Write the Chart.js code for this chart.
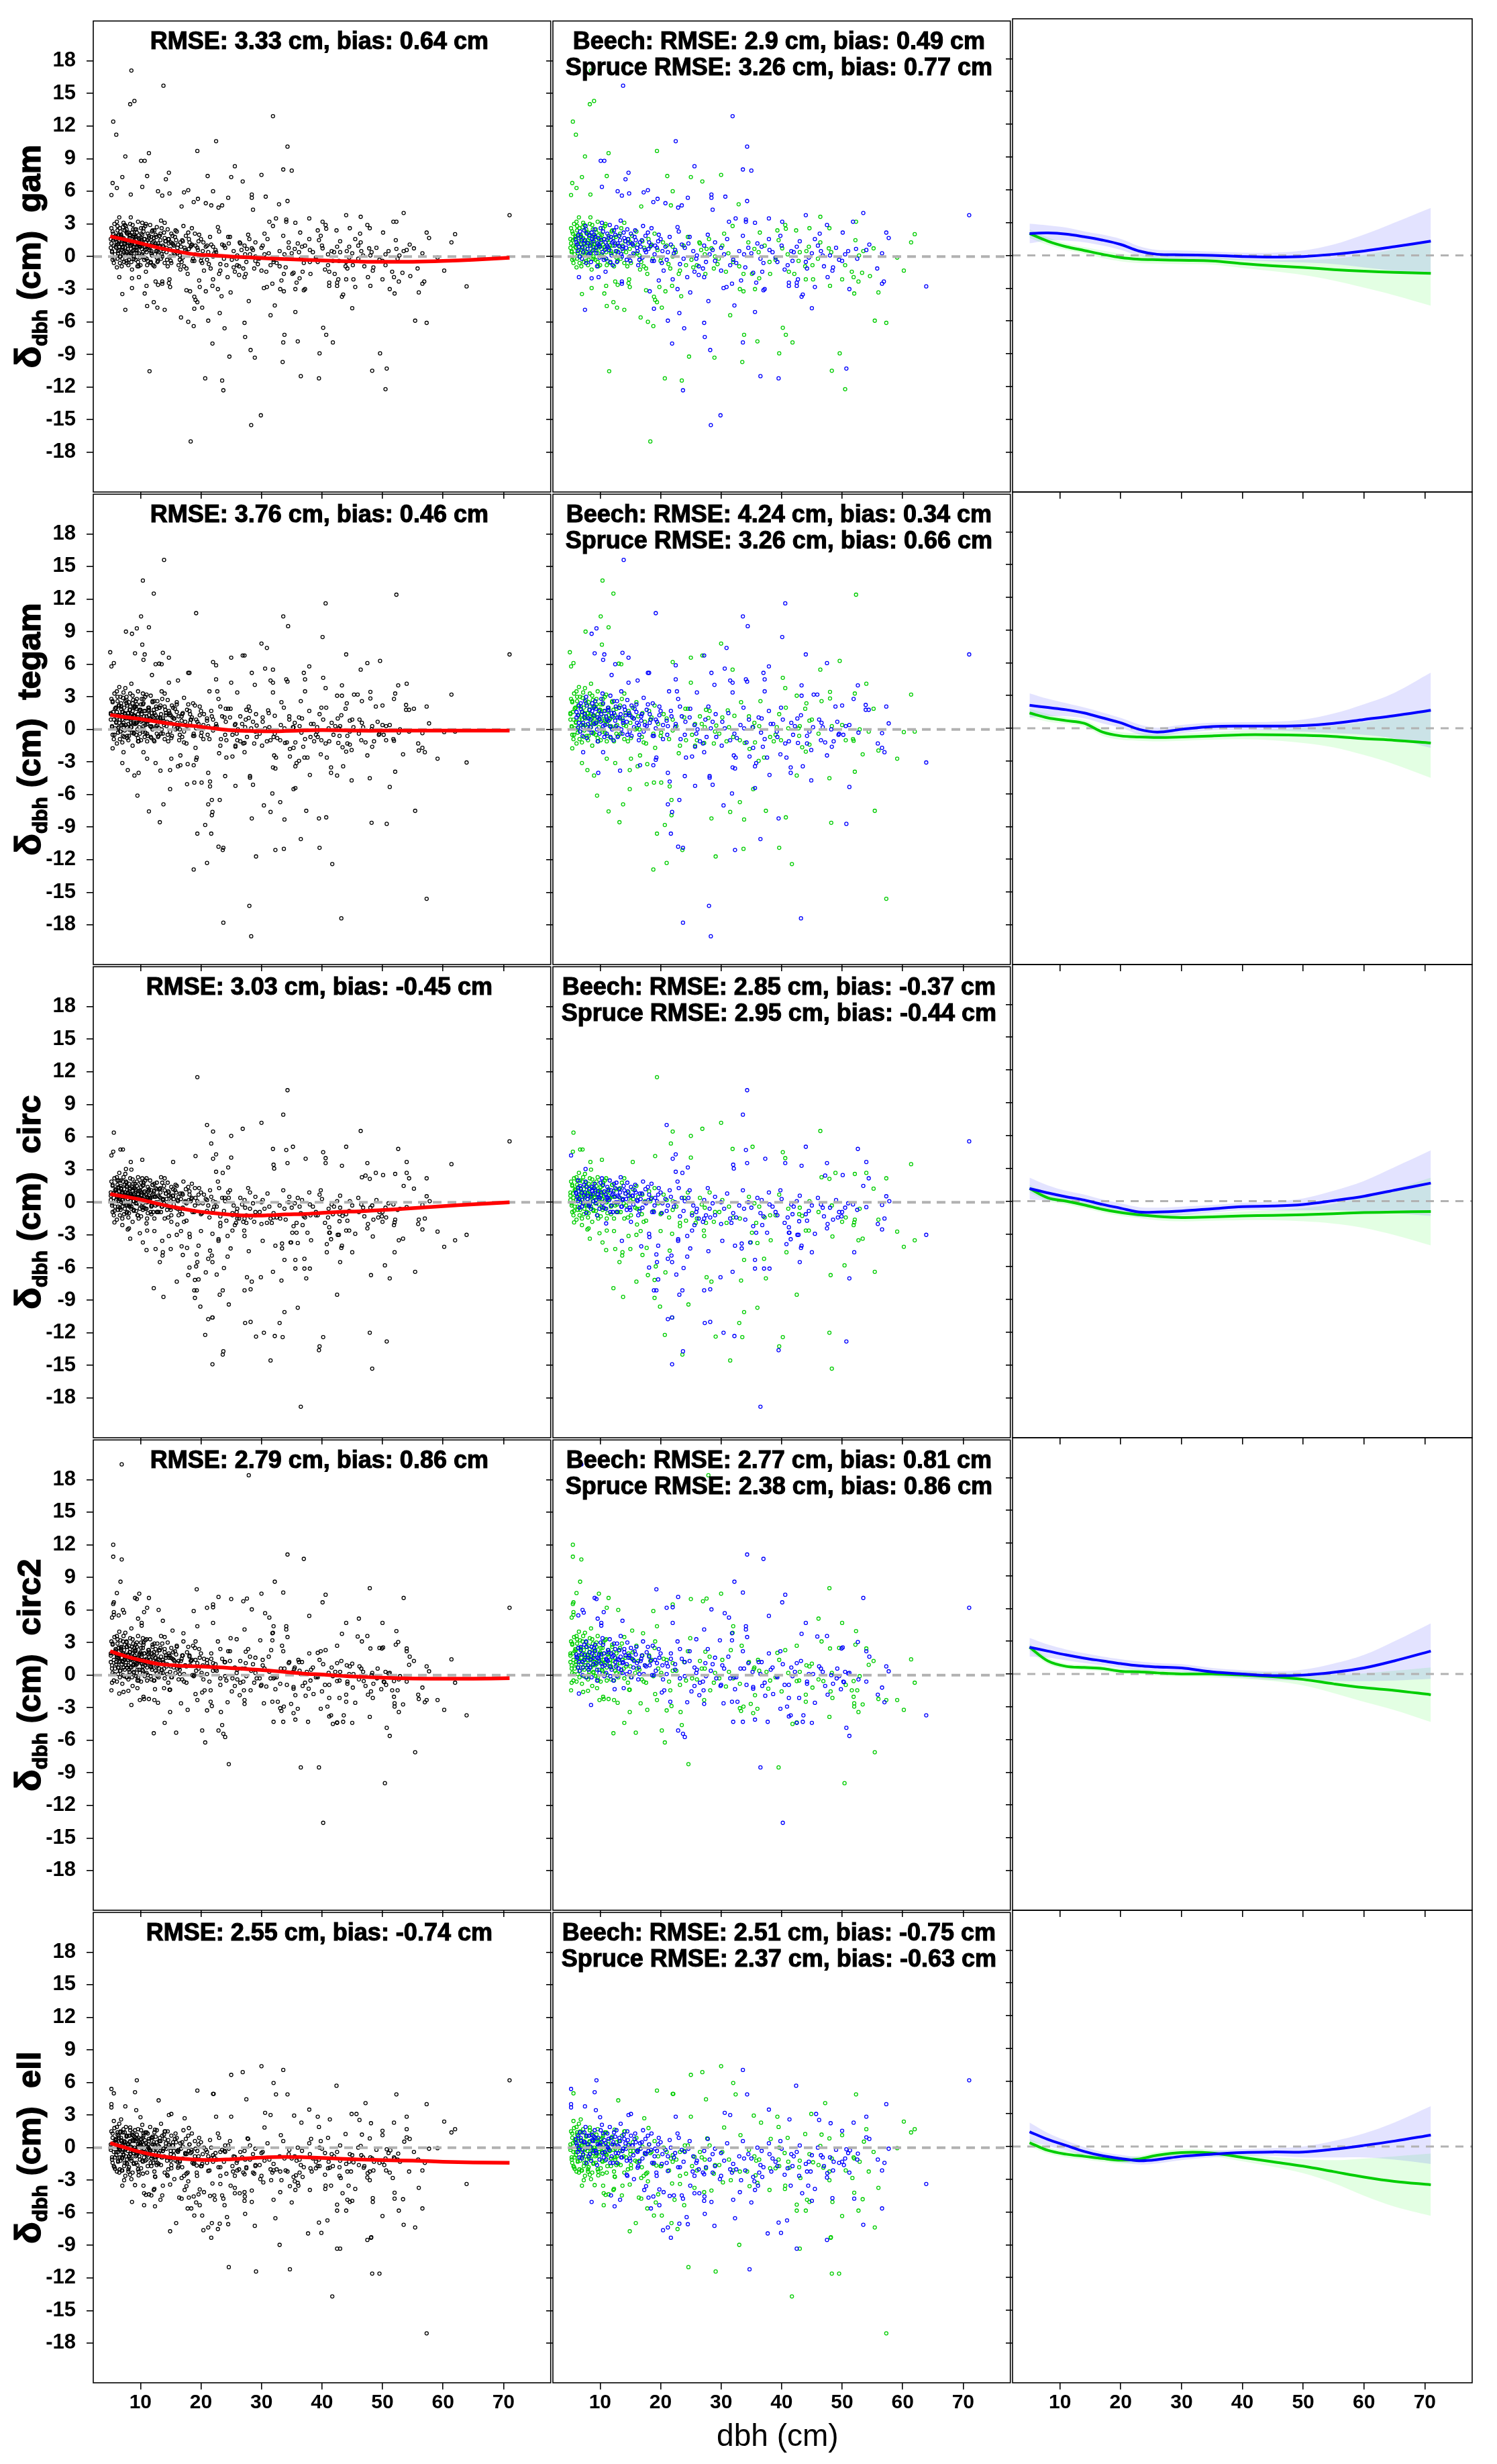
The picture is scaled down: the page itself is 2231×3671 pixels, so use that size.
<!DOCTYPE html>
<html>
<head>
<meta charset="utf-8">
<title>dbh residuals by stem model</title>
<script src="https://cdn.jsdelivr.net/npm/chart.js@4.4.1/dist/chart.umd.min.js"></script>
<style>
  html, body { margin: 0; padding: 0; background: #fff; }
  #figure { position: relative; width: 2231px; height: 3671px; background: #fff; overflow: hidden; }
  #figure canvas { position: absolute; }
</style>
</head>
<body>
<div id="figure"></div>
<script>
// ---------------------------------------------------------------------------
// Data (dbh in cm, residual in cm)
// ---------------------------------------------------------------------------
const METHODS = ["gam", "tegam", "circ", "circ2", "ell"];
const X_TICKS = [10, 20, 30, 40, 50, 60, 70];
const Y_TICKS = [-18, -15, -12, -9, -6, -3, 0, 3, 6, 9, 12, 15, 18];
const X_MIN = 2.2, X_MAX = 77.8;
const Y_MIN = -21.65, Y_MAX = 21.65;

const POOLED_TITLES = [
    "RMSE: 3.33 cm, bias: 0.64 cm",
    "RMSE: 3.76 cm, bias: 0.46 cm",
    "RMSE: 3.03 cm, bias: -0.45 cm",
    "RMSE: 2.79 cm, bias: 0.86 cm",
    "RMSE: 2.55 cm, bias: -0.74 cm"
];
const BEECH_TITLES = [
    "Beech: RMSE: 2.9 cm, bias: 0.49 cm",
    "Beech: RMSE: 4.24 cm, bias: 0.34 cm",
    "Beech: RMSE: 2.85 cm, bias: -0.37 cm",
    "Beech: RMSE: 2.77 cm, bias: 0.81 cm",
    "Beech: RMSE: 2.51 cm, bias: -0.75 cm"
];
const SPRUCE_TITLES = [
    "Spruce RMSE: 3.26 cm, bias: 0.77 cm",
    "Spruce RMSE: 3.26 cm, bias: 0.66 cm",
    "Spruce RMSE: 2.95 cm, bias: -0.44 cm",
    "Spruce RMSE: 2.38 cm, bias: 0.86 cm",
    "Spruce RMSE: 2.37 cm, bias: -0.63 cm"
];

// --- gam ---
const gamBeech = [
    [13.8,15.7],[31.9,12.9],[22.5,10.6],[34.3,10.1],[10.1,8.8],[10.7,8.8],[25.6,8.3],[14.7,7.7],[33.6,8.0],[35.0,7.9],
    [14.2,7.1],[10.3,6.4],[12.9,6.0],[14.8,5.8],[17.2,5.9],[17.9,6.1],[13.6,5.6],[28.4,5.7],[28.4,5.4],[30.7,5.5],
    [34.3,5.1],[24.5,5.4],[23.5,4.7],[22.9,4.5],[28.6,4.3],[18.8,5.0],[19.5,5.3],[20.8,4.9],[53.5,4.0],[71.0,3.8],
    [44.0,3.8],[37.9,3.5],[34.1,3.4],[34.1,3.2],[32.4,3.5],[31.3,3.2],[35.6,3.1],[40.1,3.2],[47.5,2.9],[51.8,3.2],
    [57.3,2.2],[57.7,1.7],[50.1,2.2],[46.3,2.1],[45.5,1.6],[54.5,1.1],[54.0,0.6],[56.6,0.3],[55.8,-1.1],[56.9,-2.3],
    [56.6,-2.5],[63.9,-2.75],[51.2,-3.0],[45.0,-4.75],[43.5,-3.5],[43.3,-3.7],[47.6,-1.9],[48.4,-1.3],[45.5,-2.8],[41.2,-2.4],
    [41.2,-2.7],[42.5,-2.4],[42.5,-2.7],[37.0,-3.1],[37.2,-3.0],[35.6,-5.1],[32.2,-4.5],[30.4,-2.9],[30.9,-2.8],[27.9,-4.1],
    [27.2,-6.1],[27.3,-7.4],[28.2,-8.6],[33.6,-7.9],[36.5,-11.0],[39.5,-11.2],[50.7,-10.3],[29.9,-14.6],[28.3,-15.5],[23.7,-12.3],
    [21.9,-8.0],[23.9,-6.6],[21.2,-5.9],[23.1,-5.2],[22.8,-3.0],[24.9,-3.3],[18.9,-4.8],[18.2,-3.2],[19.7,-2.2],[13.6,-2.3],
    [13.6,-2.5],[10.9,-1.4],[9.75,-1.9],[8.6,-2.0],[6.5,-1.9],[7.5,-4.9],[20.5,-1.3],[22.0,-2.1],[24.4,-1.9],[26.3,-1.7],
    [27.2,-1.9],[31.8,-2.5],[33.3,-2.2],[35.8,-2.4],[42.7,-2.1],[52.3,0.7],
    // dense part of the cloud
    [6.0,1.6],[6.3,0.5],[6.7,2.3],[7.0,-0.2],[7.3,1.2],[7.6,2.8],[7.9,0.7],[8.2,1.9],[8.5,-0.5],[8.8,1.4],
    [9.1,2.5],[9.4,0.3],[9.7,1.7],[10.0,0.9],[10.3,3.1],[10.6,-0.3],[10.9,1.3],[11.2,2.1],[11.5,0.6],[11.8,1.8],
    [12.1,-0.8],[12.4,1.0],[12.7,2.7],[13.0,0.4],[13.3,1.5],[13.6,0.0],[13.9,2.2],[14.3,0.8],[14.6,1.6],[15.0,-0.4],
    [15.4,1.1],[15.8,2.4],[16.2,0.5],[16.6,1.3],[17.0,-0.1],[17.5,1.9],[18.0,0.7],[18.5,2.6],[19.0,0.2],[19.6,1.4],
    [20.2,-0.6],[20.8,0.9],[21.5,1.8],[22.2,0.3],[23.0,2.3],[23.8,-0.2],[24.6,1.2],[25.4,0.5],[26.3,-0.9],[27.2,1.0],
    [28.1,0.2],[29.0,-0.4],[30.0,0.8],[31.0,1.6],[32.0,-0.3],[33.0,0.5],[34.0,-1.0],[35.0,0.3],[36.0,1.2],[37.0,-0.6],
    [38.0,0.6],[39.0,-0.1],[40.0,1.0],[41.0,-0.8],[42.0,0.4],[43.0,1.4],[44.0,-0.5],[45.0,0.3],[46.0,1.0],[47.0,-0.9],
    [48.0,0.1],[49.0,0.8],[50.0,-0.4],[51.0,0.5],[52.5,-0.2],
    [6.2,1.1],[6.4,2.0],[6.6,0.0],[6.9,1.5],[7.1,0.8],[7.4,2.4],[7.7,-0.6],[8.0,1.2],[8.3,0.3],[8.6,2.2],
    [8.9,0.6],[9.2,1.8],[9.5,-0.9],[9.8,1.1],[10.1,2.6],[10.4,0.4],[10.7,1.6],[11.0,-0.2],[11.3,0.9],[11.6,2.9],
    [11.9,0.1],[12.2,1.4],[12.5,2.0],[12.8,-0.5],[13.1,1.0],[13.4,3.3],[13.7,0.7],[14.0,1.7],[14.4,-0.3],[14.7,1.2],
    [15.1,2.1],[15.5,0.3],[15.9,1.5],[16.3,-0.8],[16.7,0.9],[17.1,2.8],[17.6,0.4],[18.1,1.3],[18.6,-0.4],[19.1,1.0],
    [19.7,2.0],[20.3,0.5],[21.0,-0.3],[21.7,1.1],[22.4,0.6],[23.2,-0.7],[24.0,0.8],[24.8,1.8],[26.0,0.1],[27.5,-0.5],
    [29.0,1.3],[30.5,0.2],[32.5,-0.6],[34.5,0.8],[36.5,-0.2],[38.5,0.4],[40.5,-1.2],[42.5,0.9],[44.5,-0.1],[46.5,0.5],
    [48.5,-1.0],[50.5,0.2],[36.8,-1.4],[39.8,1.9],[41.8,-0.4],[33.6,1.9],[30.0,-1.3],[27.8,2.0],[25.6,-1.4],[22.8,2.7],
    [6.1,1.3],[6.5,0.9],[6.8,1.8],[7.2,0.4],[7.5,1.5],[7.8,2.1],[8.1,0.2],[8.4,1.0],[8.7,1.6],[9.0,2.0],
    [9.3,0.8],[9.6,1.2],[9.9,-0.1],[10.2,1.5],[10.5,2.3],[10.8,0.6],[11.1,1.0],[11.4,1.7],[11.7,-0.5],[12.0,1.3],
    [12.3,2.4],[12.6,0.5],[12.9,1.2],[13.2,1.9],[13.5,0.2],[13.8,0.9],[14.2,1.4],[14.5,2.5],[14.9,0.0],[15.3,1.2],
    [15.7,1.8],[16.1,0.8],[16.5,-0.3],[16.9,1.5],[17.4,0.6],[17.9,2.2],[18.4,1.0],[18.9,-0.4],[19.4,0.8],[20.0,1.6],
    [21.2,0.4],[23.5,1.1],[25.9,-0.2],[28.6,0.6],[31.5,-0.8],[33.8,0.2],[36.7,0.9],[39.3,-0.5],[41.6,0.5],[44.2,-1.1],
    [46.8,0.1],[49.5,-0.3],[35.3,-1.5],[27.0,-1.1],[37.9,1.6]
];
const gamSpruce = [
    [9.0,14.3],[8.3,14.0],[5.5,12.4],[6.0,11.2],[8.5,17.1],[7.0,7.3],[7.5,9.2],[11.4,9.5],[19.4,9.7],[11.1,7.4],
    [21.1,7.4],[25.0,7.3],[26.9,6.9],[30.0,7.5],[5.4,6.75],[6.1,6.3],[5.2,5.65],[8.4,5.7],[22.0,6.0],[32.9,4.8],
    [16.8,4.6],[21.7,4.7],[46.4,3.65],[52.3,3.2],[62.0,2.05],[61.4,1.3],[59.1,-0.1],[60.2,-1.3],[55.2,0.75],[52.2,1.5],
    [53.5,0.5],[54.6,-1.8],[52.7,-2.3],[53.3,-1.5],[51.6,-1.4],[51.9,-1.9],[52.0,-3.4],[50.0,-2.1],[48.0,-2.7],[44.0,-2.1],
    [45.2,-2.1],[56.0,-3.3],[55.4,-5.9],[57.3,-6.1],[49.6,-8.9],[48.3,-10.5],[50.5,-12.2],[39.6,-8.9],[40.7,-7.2],[40.2,-6.55],
    [41.8,-7.9],[36.0,-7.8],[33.8,-7.2],[33.5,-9.7],[31.5,-5.4],[33.1,-3.0],[33.7,-3.2],[35.6,-3.0],[28.9,-9.3],[24.7,-9.2],
    [23.5,-11.4],[20.7,-11.2],[18.3,-17.0],[11.5,-10.55],[16.7,-5.6],[17.9,-6.0],[18.8,-6.4],[20.2,-4.7],[18.9,-3.7],[19.1,-4.0],
    [19.4,-4.2],[17.6,-3.1],[19.8,-2.8],[20.8,-3.2],[21.9,-2.7],[23.4,-3.65],[12.2,-4.2],[12.8,-4.7],[14.0,-4.9],[11.1,-4.55],
    [10.7,-3.4],[11.0,-2.7],[8.6,-2.9],[7.0,-3.45],[12.5,-2.3],[12.9,-2.6],[14.8,-2.1],[14.9,-2.8],[14.7,-2.45],[16.6,-1.2],
    [17.8,-1.6],[21.6,-1.1],[23.0,-1.6],[25.4,-1.0],[27.4,-1.6],[29.4,-0.7],[30.8,-1.4],[33.7,-1.6],[35.1,-1.6],[36.3,-2.0],
    [38.1,-1.6],[41.2,-1.4],[42.1,-1.6],[43.9,-0.9],[45.1,-0.8],[36.4,2.2],[39.3,2.4],[40.6,2.9],[40.7,2.55],[42.4,2.4],
    [44.6,2.6],[47.9,2.6],[30.5,2.1],[31.9,2.8],[28.4,0.75],[26.4,1.3],[27.6,0.7],[37.2,1.0],[40.1,0.75],[44.1,0.5],
    [46.4,1.3],[47.8,0.75],
    // dense part of the cloud
    [5.2,1.2],[5.3,0.4],[5.5,2.1],[5.6,-0.6],[5.8,1.6],[5.9,0.9],[6.1,3.2],[6.2,-0.2],[6.3,1.9],[6.5,0.6],
    [6.6,2.6],[6.8,1.1],[6.9,-0.9],[7.1,0.2],[7.2,1.7],[7.4,2.9],[7.5,0.8],[7.7,-0.4],[7.8,1.3],[8.0,2.2],
    [8.1,0.1],[8.3,1.0],[8.4,3.6],[8.6,-1.2],[8.7,0.5],[8.9,1.8],[9.0,0.9],[9.2,-0.3],[9.3,2.5],[9.5,1.2],
    [9.7,0.3],[9.8,1.6],[10.0,-0.8],[10.2,0.7],[10.3,2.0],[10.5,1.1],[10.7,-0.1],[10.9,3.0],[11.0,0.4],[11.2,1.5],
    [11.5,0.8],[11.7,-0.6],[11.9,2.3],[12.1,1.0],[12.4,0.2],[12.6,1.8],[12.9,-0.4],[13.2,0.9],[13.5,2.6],[13.8,0.5],
    [14.1,1.4],[14.5,-0.9],[14.9,0.7],[15.3,1.9],[15.7,0.2],[16.2,1.1],[16.8,-0.5],[17.3,0.8],[18.0,1.6],[18.7,-0.2],
    [19.5,0.6],[20.4,1.3],[21.3,-0.7],[22.5,0.4],[23.8,1.0],[25.1,-0.3],[26.7,0.6],[28.0,1.6],[29.6,-0.2],[31.2,0.3],
    [33.0,-0.9],[34.5,1.3],[36.2,0.4],[38.0,-0.5],[39.5,1.5],[41.0,0.2],[42.8,-0.4],[44.5,0.9],[46.0,-0.2],[48.2,0.4],
    [50.5,-0.8],[52.8,0.1],
    [5.1,0.8],[5.2,2.6],[5.4,-0.3],[5.5,1.5],[5.7,3.0],[5.8,0.2],[6.0,1.8],[6.1,-1.0],[6.2,2.4],[6.4,1.2],
    [6.5,3.6],[6.7,0.0],[6.8,1.9],[7.0,0.9],[7.1,2.7],[7.3,-0.5],[7.4,1.4],[7.6,0.5],[7.7,2.2],[7.9,1.0],
    [8.0,-0.8],[8.2,1.7],[8.3,3.0],[8.5,0.3],[8.6,1.3],[8.8,2.5],[8.9,-0.2],[9.1,1.1],[9.2,1.9],[9.4,0.6],
    [9.6,3.2],[9.7,-0.9],[9.9,0.9],[10.1,2.1],[10.2,1.3],[10.4,0.0],[10.6,1.6],[10.8,2.8],[11.0,0.7],[11.2,-0.4],
    [11.4,1.9],[11.6,1.0],[11.8,0.3],[12.0,2.4],[12.3,-0.9],[12.5,1.2],[12.8,0.5],[13.1,1.9],[13.4,-0.2],[13.7,1.0],
    [14.0,3.1],[14.3,0.4],[14.7,1.6],[15.1,-0.6],[15.5,1.0],[16.0,2.3],[16.5,0.1],[17.0,1.4],[17.6,-1.1],[18.3,0.9],
    [19.0,2.1],[20.0,-0.4],[21.0,1.0],[22.0,0.0],[23.2,-1.3],[24.5,1.8],[26.0,-0.8],[27.3,0.2],[28.8,-1.1],[30.2,1.0],
    [5.1,1.6],[5.3,0.5],[5.4,2.3],[5.6,1.0],[5.7,-0.2],[5.9,1.9],[6.0,0.8],[6.2,2.8],[6.3,0.3],[6.5,1.4],
    [6.6,-0.6],[6.8,2.0],[6.9,0.6],[7.1,1.6],[7.2,3.1],[7.4,0.1],[7.5,1.2],[7.7,2.5],[7.8,0.4],[8.0,1.5],
    [8.1,-0.3],[8.3,2.0],[8.4,0.7],[8.6,1.1],[8.7,2.9],[8.9,0.0],[9.0,1.4],[9.2,0.6],[9.4,2.2],[9.6,-0.5],
    [9.8,1.0],[10.0,1.7],[10.3,0.2],[10.5,2.6],[10.8,0.9],[11.1,-0.8],[11.4,1.3],[11.8,0.5],[12.2,1.7],[12.7,-0.1],
    [13.3,2.1],[14.0,-0.6],[15.0,1.3],[16.1,0.3],[17.2,-0.9],[18.5,1.1],[20.1,-0.1],[22.0,0.9],[24.2,-0.8],[26.5,1.2],
    [29.0,0.0],[32.0,-0.5],[35.5,0.7],[39.0,-0.3],[43.0,0.4]
];

// --- tegam ---
const tegamBeech = [
    [13.9,15.6],[40.6,11.6],[19.2,10.7],[33.6,10.4],[34.4,9.5],[9.4,9.3],[8.6,8.8],[40.1,8.5],[30.9,7.5],[13.7,7.05],
    [14.7,6.6],[44.0,6.9],[71.0,6.9],[9.1,7.0],[10.7,6.9],[10.5,6.4],[22.5,5.9],[27.2,6.8],[47.5,6.1],[37.9,5.8],
    [30.6,5.6],[12.5,6.0],[17.9,5.2],[18.1,5.2],[11.9,5.0],[28.4,5.2],[37.0,5.2],[22.5,4.6],[31.5,4.5],[31.9,4.3],
    [34.1,4.6],[34.3,4.4],[37.2,4.6],[14.7,4.3],[16.2,4.5],[43.3,4.05],[28.9,4.1],[52.6,4.05],[21.4,3.5],[22.7,3.5],
    [26.0,3.4],[31.9,3.4],[37.2,3.5],[45.3,3.2],[45.9,3.2],[43.3,3.1],[51.9,2.8],[53.9,2.25],[53.9,1.8],[54.4,1.8],
    [57.3,2.1],[48.9,2.1],[50.0,2.2],[57.7,0.55],[56.6,-0.35],[55.9,-1.3],[56.6,-1.7],[57.0,-2.1],[63.9,-3.05],[51.2,-5.3],
    [50.7,-8.7],[47.5,-2.4],[48.3,-1.6],[44.9,-4.7],[43.5,-3.4],[41.5,-3.5],[41.5,-4.0],[40.8,-2.6],[38.0,-4.2],[39.5,-8.2],
    [36.5,-10.1],[35.6,-5.4],[35.6,-3.4],[35.8,-3.1],[32.3,-3.6],[31.9,-3.5],[31.8,-5.9],[30.4,-7.0],[32.3,-11.1],[28.0,-16.25],
    [28.3,-19.05],[23.7,-17.8],[43.2,-17.4],[28.1,-4.3],[28.1,-4.45],[28.6,-5.1],[25.7,-5.2],[24.0,-4.3],[22.9,-10.8],[23.7,-10.9],
    [21.7,-9.6],[23.1,-6.5],[21.2,-6.9],[21.9,-7.6],[21.5,-4.8],[21.2,-4.0],[19.3,-2.6],[19.2,-2.8],[18.8,-3.3],[16.6,-3.3],
    [13.3,-3.8],[9.7,-4.0],[7.2,-2.1],[10.5,-2.1],[24.2,-2.6],[25.2,-2.5],[27.2,-2.1],[32.1,-2.4],[32.4,-2.6],[34.7,-2.5],
    [37.6,-2.6],[39.8,-2.3],[42.7,-1.25],[44.9,-1.9],[46.5,-1.0],[49.4,-0.5],
    // dense part of the cloud
    [6.1,1.6],[6.4,0.2],[6.8,2.4],[7.1,-0.6],[7.4,1.1],[7.7,3.0],[8.0,0.5],[8.3,1.8],[8.6,-0.3],[8.9,1.3],
    [9.2,2.6],[9.5,0.0],[9.8,1.7],[10.1,0.7],[10.4,3.3],[10.7,-0.7],[11.0,1.2],[11.3,2.0],[11.6,0.3],[11.9,1.5],
    [12.2,-1.0],[12.5,0.8],[12.8,2.6],[13.1,0.1],[13.4,1.4],[13.7,-0.4],[14.0,2.1],[14.4,0.7],[14.8,1.5],[15.2,-0.6],
    [15.6,1.0],[16.0,2.3],[16.4,0.4],[16.8,1.2],[17.2,-0.2],[17.7,1.8],[18.2,0.6],[18.7,2.4],[19.2,0.1],[19.8,1.3],
    [20.4,-0.9],[21.0,0.8],[21.7,1.7],[22.4,0.2],[23.2,2.1],[24.0,-0.5],[24.8,1.1],[25.6,0.4],[26.5,-1.1],[27.4,0.9],
    [28.3,0.1],[29.2,-0.7],[30.2,0.7],[31.2,1.5],[32.2,-0.4],[33.2,0.4],[34.2,-1.2],[35.2,0.2],[36.2,1.1],[37.2,-0.9],
    [38.2,0.5],[39.2,-0.2],[40.2,0.9],[41.2,-1.1],[42.2,0.3],[43.2,1.3],[44.2,-0.6],[45.2,0.2],[46.2,0.9],[47.2,-1.2],
    [48.2,0.0],[49.2,0.7],[50.2,-0.5],[51.2,0.4],[52.7,-0.3],
    [6.3,1.3],[6.5,2.2],[6.7,-0.2],[7.0,1.6],[7.2,0.6],[7.5,2.6],[7.8,-0.8],[8.1,1.0],[8.4,0.2],[8.7,2.4],
    [9.0,0.5],[9.3,1.9],[9.6,-1.1],[9.9,1.0],[10.2,2.8],[10.5,0.3],[10.8,1.7],[11.1,-0.4],[11.4,0.8],[11.7,3.1],
    [12.0,0.0],[12.3,1.5],[12.6,2.1],[12.9,-0.7],[13.2,1.1],[13.5,3.5],[13.8,0.6],[14.1,1.8],[14.5,-0.5],[14.8,1.3],
    [15.2,2.2],[15.6,0.2],[16.0,1.6],[16.4,-1.0],[16.8,0.8],[17.2,2.9],[17.7,0.3],[18.2,1.4],[18.7,-0.6],[19.2,0.9],
    [19.8,2.1],[20.4,0.4],[21.1,-0.5],[21.8,1.2],[22.5,0.5],[23.3,-0.9],[24.1,0.7],[24.9,1.9],[26.1,0.0],[27.6,-0.7],
    [29.1,1.4],[30.6,0.1],[32.6,-0.8],[34.6,0.9],[36.6,-0.3],[38.6,0.5],[40.6,-1.3],[42.6,1.0],[44.6,-0.2],[46.6,0.6],
    [48.6,-1.1],[50.6,0.3],[36.9,-1.6],[39.9,2.0],[41.9,-0.5],[33.7,2.0],[30.1,-1.5],[27.9,2.1],[25.7,-1.6],[22.9,2.8],
    [6.1,1.1],[6.5,0.6],[6.8,1.9],[7.2,0.2],[7.5,1.4],[7.8,2.2],[8.1,0.0],[8.4,0.9],[8.7,1.7],[9.0,2.1],
    [9.3,0.6],[9.6,1.1],[9.9,-0.4],[10.2,1.4],[10.5,2.4],[10.8,0.4],[11.1,0.9],[11.4,1.8],[11.7,-0.7],[12.0,1.2],
    [12.3,2.6],[12.6,0.3],[12.9,1.1],[13.2,2.0],[13.5,0.0],[13.8,0.8],[14.2,1.3],[14.5,2.7],[14.9,-0.2],[15.3,1.1],
    [15.7,1.9],[16.1,0.6],[16.5,-0.5],[16.9,1.4],[17.4,0.4],[17.9,2.3],[18.4,0.9],[18.9,-0.6],[19.4,0.7],[20.0,1.7],
    [21.2,0.3],[23.5,1.2],[25.9,-0.4],[28.6,0.7],[31.5,-1.0],[33.8,0.1],[36.7,1.0],[39.3,-0.7],[41.6,0.6],[44.2,-1.3],
    [46.8,0.2],[49.5,-0.4],[35.3,-1.7],[27.0,-1.3],[37.9,1.7]
];
const tegamSpruce = [
    [10.4,13.7],[12.2,12.5],[52.3,12.4],[10.1,10.4],[11.4,9.4],[7.6,9.0],[10.3,7.8],[5.0,7.1],[30.0,7.9],[25.0,6.6],
    [26.9,6.8],[22.0,6.2],[49.6,6.3],[5.2,5.8],[5.6,6.1],[31.9,5.5],[13.1,6.05],[13.5,6.0],[40.2,4.75],[46.4,5.5],
    [61.4,3.2],[54.0,4.2],[25.0,4.3],[40.6,3.8],[52.1,3.3],[48.0,3.45],[55.2,1.9],[62.0,-0.2],[60.2,-0.25],[59.1,-2.7],
    [56.0,-1.95],[55.4,-7.5],[57.3,-15.6],[53.4,-2.3],[52.1,-3.9],[51.8,-0.9],[51.9,-1.05],[47.9,-4.5],[48.2,-8.6],[44.0,-2.05],
    [42.5,-4.25],[41.7,-12.4],[39.6,-10.9],[40.7,-8.1],[37.4,-7.5],[35.3,-5.5],[36.2,-2.9],[34.7,-1.8],[33.1,-6.7],[33.8,-8.3],
    [33.7,-11.0],[31.5,-7.6],[29.1,-11.7],[28.4,-8.2],[23.6,-11.1],[21.0,-12.3],[18.8,-12.9],[19.4,-9.6],[20.7,-8.8],[21.8,-7.9],
    [21.8,-6.5],[21.5,-5.25],[18.9,-4.9],[20.1,-4.9],[17.7,-5.05],[14.9,-5.5],[13.8,-6.9],[13.2,-8.55],[11.4,-7.55],[9.5,-6.1],
    [9.0,-4.25],[7.9,-3.75],[7.0,-3.1],[11.1,-2.7],[12.5,-3.1],[14.9,-3.75],[16.2,-3.4],[17.8,-3.2],[5.4,-1.75],[15.1,-2.7],
    [16.6,-2.4],[19.1,-1.7],[23.0,-2.2],[25.7,-1.5],[27.2,-1.25],[30.9,-1.1],[33.9,-1.25],[35.6,-1.2],[37.1,-2.6],[38.7,-1.1],
    [39.9,-1.0],[43.4,-1.65],[44.6,-1.4],[50.0,0.4],[54.4,-0.2],[42.5,3.1],[44.1,2.4],[43.9,1.9],[45.0,0.9],[46.6,2.6],
    [48.0,2.85],[40.7,2.0],[36.5,2.6],[33.3,2.5],[32.2,1.25],[31.1,1.75],[27.5,1.8],[27.9,1.05],[24.1,1.9],[25.7,0.5],
    [29.2,0.35],[35.3,0.2],[39.2,0.2],[42.8,0.1],
    // dense part of the cloud
    [5.1,1.5],[5.3,0.2],[5.4,2.6],[5.6,-0.9],[5.8,1.9],[6.0,0.7],[6.1,3.5],[6.3,-0.3],[6.4,2.2],[6.6,0.9],
    [6.7,3.0],[6.9,1.3],[7.0,-1.2],[7.2,0.4],[7.3,2.0],[7.5,3.8],[7.6,1.0],[7.8,-0.6],[7.9,1.5],[8.1,2.5],
    [8.2,0.0],[8.4,1.2],[8.5,4.2],[8.7,-1.5],[8.8,0.6],[9.0,2.0],[9.1,1.0],[9.3,-0.5],[9.4,2.8],[9.6,1.4],
    [9.8,0.2],[9.9,1.8],[10.1,-1.0],[10.3,0.8],[10.4,2.3],[10.6,1.2],[10.8,-0.3],[11.0,3.2],[11.1,0.5],[11.3,1.7],
    [11.6,0.9],[11.8,-0.8],[12.0,2.5],[12.2,1.1],[12.5,0.1],[12.7,1.9],[13.0,-0.6],[13.3,1.0],[13.6,2.8],[13.9,0.4],
    [14.2,1.5],[14.6,-1.1],[15.0,0.6],[15.4,2.0],[15.8,0.0],[16.3,1.2],[16.9,-0.7],[17.4,0.7],[18.1,1.7],[18.8,-0.4],
    [19.6,0.5],[20.5,1.4],[21.4,-0.9],[22.6,0.3],[23.9,1.1],[25.2,-0.5],[26.8,0.5],[28.1,1.7],[29.7,-0.4],[31.3,0.2],
    [33.1,-1.0],[34.6,1.2],[36.3,0.3],[38.1,-0.7],[39.6,1.4],[41.1,0.1],[42.9,-0.6],[44.6,0.8],[46.1,-0.4],[48.3,0.3],
    [50.6,-1.0],[52.9,0.0],
    [5.1,0.9],[5.2,2.8],[5.4,-0.5],[5.5,1.6],[5.7,3.3],[5.8,0.1],[6.0,2.0],[6.1,-1.3],[6.2,2.6],[6.4,1.3],
    [6.5,3.9],[6.7,-0.2],[6.8,2.1],[7.0,0.9],[7.1,2.9],[7.3,-0.7],[7.4,1.5],[7.6,0.4],[7.7,2.4],[7.9,1.1],
    [8.0,-1.0],[8.2,1.8],[8.3,3.3],[8.5,0.2],[8.6,1.4],[8.8,2.7],[8.9,-0.4],[9.1,1.2],[9.2,2.1],[9.4,0.6],
    [9.6,3.5],[9.7,-1.1],[9.9,0.9],[10.1,2.3],[10.2,1.4],[10.4,-0.2],[10.6,1.7],[10.8,3.0],[11.0,0.7],[11.2,-0.6],
    [11.4,2.0],[11.6,1.0],[11.8,0.2],[12.0,2.6],[12.3,-1.1],[12.5,1.3],[12.8,0.4],[13.1,2.0],[13.4,-0.4],[13.7,1.0],
    [14.0,3.3],[14.3,0.3],[14.7,1.7],[15.1,-0.8],[15.5,1.0],[16.0,2.5],[16.5,0.0],[17.0,1.5],[17.6,-1.3],[18.3,0.9],
    [19.0,2.2],[20.0,-0.6],[21.0,1.0],[22.0,-0.1],[23.2,-1.5],[24.5,1.9],[26.0,-1.0],[27.3,0.2],[28.8,-1.3],[30.2,1.1],
    [5.1,1.4],[5.3,0.3],[5.4,2.5],[5.6,0.9],[5.7,-0.5],[5.9,2.0],[6.0,0.6],[6.2,3.0],[6.3,0.1],[6.5,1.3],
    [6.6,-0.9],[6.8,2.1],[6.9,0.4],[7.1,1.6],[7.2,3.4],[7.4,-0.1],[7.5,1.1],[7.7,2.7],[7.8,0.2],[8.0,1.5],
    [8.1,-0.6],[8.3,2.1],[8.4,0.6],[8.6,1.0],[8.7,3.1],[8.9,-0.3],[9.0,1.3],[9.2,0.5],[9.4,2.3],[9.6,-0.8],
    [9.8,0.9],[10.0,1.8],[10.3,0.0],[10.5,2.8],[10.8,0.8],[11.1,-1.1],[11.4,1.3],[11.8,0.3],[12.2,1.8],[12.7,-0.4],
    [13.3,2.2],[14.0,-0.9],[15.0,1.3],[16.1,0.1],[17.2,-1.2],[18.5,1.1],[20.1,-0.3],[22.0,0.9],[24.2,-1.0],[26.5,1.2],
    [29.0,-0.2],[32.0,-0.7],[35.5,0.6],[39.0,-0.5],[43.0,0.3]
];

// --- circ ---
const circBeech = [
    [34.3,10.3],[33.6,8.05],[21.0,7.1],[71.0,5.6],[44.0,5.1],[34.1,4.8],[52.6,4.9],[22.5,4.4],[22.0,4.0],[37.3,4.0],
    [32.0,3.45],[32.1,3.1],[34.3,3.6],[40.6,3.6],[43.3,3.35],[47.5,3.6],[54.0,3.7],[24.5,3.2],[22.5,2.8],[23.6,2.7],
    [50.1,2.5],[47.2,2.45],[54.4,2.2],[53.5,1.5],[57.3,0.55],[57.8,0.1],[56.6,-0.25],[54.0,-0.45],[51.8,-0.2],[57.0,-1.5],
    [55.9,-2.0],[56.6,-2.5],[63.9,-3.0],[52.0,-4.6],[51.2,-7.0],[50.7,-12.8],[47.6,-2.0],[47.5,-2.4],[49.3,-1.4],[49.9,-1.3],
    [45.0,-4.6],[43.3,-4.0],[43.2,-4.2],[43.0,-5.5],[42.6,-3.0],[42.8,-3.0],[41.5,-3.4],[41.2,-2.3],[41.3,-2.8],[40.8,-3.85],
    [39.5,-13.6],[36.5,-18.8],[37.1,-6.1],[38.0,-6.1],[35.6,-5.3],[35.6,-6.1],[34.8,-3.7],[33.4,-3.8],[33.4,-4.25],[32.3,-4.0],
    [31.9,-6.4],[32.2,-12.3],[30.4,-12.0],[29.9,-6.9],[30.2,-3.55],[27.9,-4.5],[27.2,-8.1],[28.2,-8.0],[27.3,-11.1],[28.2,-11.0],
    [24.4,-3.1],[24.4,-5.0],[25.2,-2.6],[24.9,-4.25],[23.8,-6.05],[23.6,-8.1],[23.1,-8.5],[23.7,-13.7],[21.9,-14.9],[21.2,-10.75],
    [21.9,-10.6],[22.6,-6.65],[21.8,-4.9],[21.9,-5.5],[21.2,-5.2],[22.9,-3.4],[22.9,-3.55],[19.6,-7.1],[19.3,-4.8],[19.4,-5.5],
    [18.1,-6.0],[18.9,-8.1],[19.3,-8.1],[19.6,-4.0],[16.8,-4.05],[18.1,-2.9],[18.15,-3.2],[13.6,-3.55],[15.1,-1.8],[11.0,-1.95],
    [25.2,-1.2],[27.2,-1.5],[28.2,-1.4],[31.7,-1.9],[35.8,-2.8],[37.6,-2.8],[41.2,-2.8],[42.9,-1.75],[45.5,-2.9],[5.2,4.3],
    [6.4,2.0],[7.6,3.05],
    // dense part of the cloud
    [6.0,0.9],[6.3,0.1],[6.7,1.5],[7.0,-0.4],[7.3,0.6],[7.6,1.9],[7.9,0.3],[8.2,1.2],[8.5,-0.6],[8.8,0.8],
    [9.1,1.7],[9.4,-0.1],[9.7,1.0],[10.0,0.4],[10.3,2.2],[10.6,-0.5],[10.9,0.7],[11.2,1.4],[11.5,0.2],[11.8,1.1],
    [12.1,-0.9],[12.4,0.5],[12.7,1.8],[13.0,0.0],[13.3,0.9],[13.6,-0.4],[13.9,1.5],[14.3,0.3],[14.6,1.0],[15.0,-0.7],
    [15.4,0.6],[15.8,1.6],[16.2,0.1],[16.6,0.8],[17.0,-0.5],[17.5,1.2],[18.0,0.2],[18.5,1.7],[19.0,-0.3],[19.6,0.7],
    [20.2,-1.0],[20.8,0.3],[21.5,1.1],[22.2,-0.4],[23.0,1.3],[23.8,-0.8],[24.6,0.4],[25.4,-0.3],[26.3,-1.5],[27.2,0.2],
    [28.1,-0.6],[29.0,-1.2],[30.0,0.0],[31.0,0.8],[32.0,-1.0],[33.0,-0.3],[34.0,-1.6],[35.0,-0.5],[36.0,0.4],[37.0,-1.3],
    [38.0,-0.2],[39.0,-0.9],[40.0,0.3],[41.0,-1.4],[42.0,-0.4],[43.0,0.6],[44.0,-1.1],[45.0,-0.3],[46.0,0.4],[47.0,-1.3],
    [48.0,-0.5],[49.0,0.2],[50.0,-0.9],[51.0,-0.1],[52.5,-0.7],
    [6.2,0.5],[6.4,1.3],[6.6,-0.5],[6.9,0.9],[7.1,0.2],[7.4,1.6],[7.7,-1.0],[8.0,0.6],[8.3,-0.2],[8.6,1.4],
    [8.9,0.1],[9.2,1.1],[9.5,-1.2],[9.8,0.5],[10.1,1.8],[10.4,-0.1],[10.7,1.0],[11.0,-0.6],[11.3,0.4],[11.6,2.0],
    [11.9,-0.3],[12.2,0.8],[12.5,1.3],[12.8,-0.9],[13.1,0.5],[13.4,2.3],[13.7,0.2],[14.0,1.1],[14.4,-0.7],[14.7,0.6],
    [15.1,1.4],[15.5,-0.2],[15.9,0.9],[16.3,-1.2],[16.7,0.3],[17.1,1.9],[17.6,-0.1],[18.1,0.7],[18.6,-0.9],[19.1,0.4],
    [19.7,1.3],[20.3,-0.1],[21.0,-0.8],[21.7,0.5],[22.4,0.0],[23.2,-1.3],[24.0,0.1],[24.8,1.1],[26.0,-0.6],[27.5,-1.2],
    [29.0,0.5],[30.5,-0.6],[32.5,-1.4],[34.5,0.0],[36.5,-1.0],[38.5,-0.4],[40.5,-1.9],[42.5,0.1],[44.5,-0.8],[46.5,-0.2],
    [48.5,-1.6],[50.5,-0.5],[36.8,-2.1],[39.8,1.1],[41.8,-1.1],[33.6,1.1],[30.0,-2.0],[27.8,1.3],[25.6,-2.1],[22.8,1.9],
    [6.1,0.8],[6.5,0.3],[6.8,1.2],[7.2,-0.1],[7.5,0.9],[7.8,1.4],[8.1,-0.3],[8.4,0.5],[8.7,1.0],[9.0,1.3],
    [9.3,0.2],[9.6,0.7],[9.9,-0.6],[10.2,0.9],[10.5,1.6],[10.8,0.1],[11.1,0.5],[11.4,1.1],[11.7,-0.9],[12.0,0.7],
    [12.3,1.7],[12.6,0.0],[12.9,0.6],[13.2,1.2],[13.5,-0.4],[13.8,0.3],[14.2,0.8],[14.5,1.8],[14.9,-0.5],[15.3,0.6],
    [15.7,1.1],[16.1,0.2],[16.5,-0.8],[16.9,0.8],[17.4,0.0],[17.9,1.4],[18.4,0.3],[18.9,-0.9],[19.4,0.1],[20.0,0.9],
    [21.2,-0.3],[23.5,0.4],[25.9,-0.9],[28.6,-0.1],[31.5,-1.5],[33.8,-0.6],[36.7,0.2],[39.3,-1.2],[41.6,-0.2],[44.2,-1.7],
    [46.8,-0.5],[49.5,-0.9],[35.3,-2.2],[27.0,-1.8],[37.9,0.9]
];
const circSpruce = [
    [19.4,11.5],[30.0,7.3],[22.0,6.5],[25.0,6.1],[26.9,6.75],[46.4,6.55],[5.6,6.4],[21.7,5.4],[31.9,4.9],[35.2,5.1],
    [40.2,4.6],[5.5,4.65],[6.7,4.85],[7.1,4.85],[19.1,4.25],[25.0,4.1],[40.6,4.05],[61.4,3.5],[10.3,3.9],[15.4,3.7],
    [8.4,3.7],[48.9,2.7],[52.1,2.6],[57.3,2.2],[54.0,2.7],[55.2,1.25],[47.9,2.15],[46.6,2.3],[59.1,-2.7],[60.2,-4.1],
    [62.0,-3.5],[56.0,-1.6],[55.4,-6.4],[53.4,-3.35],[52.7,-3.5],[50.4,-5.8],[52.1,-1.6],[51.9,-2.1],[52.0,-1.85],[50.0,-1.8],
    [48.4,-3.15],[48.1,-6.7],[47.9,-12.0],[48.3,-15.3],[44.0,-2.6],[44.5,-2.6],[43.4,-1.25],[42.5,-8.5],[40.8,-4.6],[38.2,-3.5],
    [37.1,-5.2],[36.0,-3.75],[37.4,-7.0],[40.2,-12.4],[39.6,-13.25],[36.0,-9.7],[34.9,-3.7],[33.8,-5.3],[33.3,-7.2],[33.8,-10.1],
    [33.5,-12.4],[33.0,-11.1],[31.5,-14.55],[29.1,-12.35],[28.4,-7.3],[27.6,-6.9],[27.2,-3.1],[27.15,-2.6],[24.6,-9.4],[23.6,-14.0],
    [21.9,-10.6],[20.7,-12.2],[20.8,-6.45],[21.5,-4.45],[19.9,-9.6],[19.0,-8.8],[19.2,-5.9],[19.0,-7.15],[17.9,-6.7],[16.0,-7.3],
    [17.0,-4.85],[17.7,-4.2],[13.8,-8.7],[12.2,-7.9],[13.2,-5.5],[13.7,-4.6],[13.65,-4.9],[15.0,-4.3],[12.5,-4.3],[11.0,-4.4],
    [10.4,-3.7],[8.3,-3.35],[9.9,-2.85],[11.1,-2.6],[12.3,-2.65],[14.7,-3.1],[16.0,-3.0],[16.7,-2.65],[5.7,-1.85],[7.9,-2.5],
    [8.1,-2.4],[7.0,-2.1],[16.1,-2.05],[20.0,-2.65],[21.9,-2.9],[23.2,-2.2],[25.8,-1.9],[27.5,-1.9],[30.9,-1.9],[35.8,-1.9],
    [37.2,-1.4],[35.1,-2.8],
    // dense part of the cloud
    [5.1,0.6],[5.3,-0.3],[5.4,1.6],[5.6,-1.2],[5.8,1.1],[6.0,0.2],[6.1,2.3],[6.3,-0.7],[6.4,1.4],[6.6,0.4],
    [6.7,2.0],[6.9,0.8],[7.0,-1.5],[7.2,-0.1],[7.3,1.2],[7.5,2.6],[7.6,0.5],[7.8,-0.9],[7.9,0.9],[8.1,1.7],
    [8.2,-0.4],[8.4,0.7],[8.5,3.0],[8.7,-1.8],[8.8,0.1],[9.0,1.3],[9.1,0.5],[9.3,-0.8],[9.4,1.9],[9.6,0.8],
    [9.8,-0.2],[9.9,1.1],[10.1,-1.3],[10.3,0.3],[10.4,1.5],[10.6,0.6],[10.8,-0.6],[11.0,2.2],[11.1,0.0],[11.3,1.0],
    [11.6,0.4],[11.8,-1.1],[12.0,1.6],[12.2,0.5],[12.5,-0.3],[12.7,1.2],[13.0,-0.9],[13.3,0.4],[13.6,1.8],[13.9,-0.1],
    [14.2,0.8],[14.6,-1.4],[15.0,0.1],[15.4,1.2],[15.8,-0.5],[16.3,0.5],[16.9,-1.1],[17.4,0.1],[18.1,1.0],[18.8,-0.8],
    [19.6,-0.1],[20.5,0.7],[21.4,-1.4],[22.6,-0.4],[23.9,0.4],[25.2,-1.0],[26.8,-0.2],[28.1,0.9],[29.7,-0.9],[31.3,-0.4],
    [33.1,-1.5],[34.6,0.5],[36.3,-0.4],[38.1,-1.2],[39.6,0.7],[41.1,-0.6],[42.9,-1.1],[44.6,0.1],[46.1,-0.9],[48.3,-0.3],
    [50.6,-1.4],[52.9,-0.6],
    [5.1,0.2],[5.2,1.9],[5.4,-0.9],[5.5,0.8],[5.7,2.2],[5.8,-0.4],[6.0,1.1],[6.1,-1.6],[6.2,1.6],[6.4,0.5],
    [6.5,2.7],[6.7,-0.7],[6.8,1.2],[7.0,0.2],[7.1,1.9],[7.3,-1.1],[7.4,0.7],[7.6,-0.2],[7.7,1.5],[7.9,0.3],
    [8.0,-1.4],[8.2,1.0],[8.3,2.2],[8.5,-0.4],[8.6,0.6],[8.8,1.7],[8.9,-0.8],[9.1,0.4],[9.2,1.2],[9.4,-0.1],
    [9.6,2.3],[9.7,-1.5],[9.9,0.2],[10.1,1.4],[10.2,0.6],[10.4,-0.7],[10.6,0.9],[10.8,2.0],[11.0,0.0],[11.2,-1.0],
    [11.4,1.2],[11.6,0.3],[11.8,-0.4],[12.0,1.6],[12.3,-1.5],[12.5,0.5],[12.8,-0.2],[13.1,1.2],[13.4,-0.9],[13.7,0.3],
    [14.0,2.2],[14.3,-0.3],[14.7,0.9],[15.1,-1.2],[15.5,0.3],[16.0,1.5],[16.5,-0.6],[17.0,0.7],[17.6,-1.7],[18.3,0.1],
    [19.0,1.3],[20.0,-1.1],[21.0,0.2],[22.0,-0.7],[23.2,-1.9],[24.5,0.9],[26.0,-1.5],[27.3,-0.5],[28.8,-1.8],[30.2,0.2],
    [5.1,0.9],[5.3,-0.1],[5.4,1.5],[5.6,0.4],[5.7,-0.8],[5.9,1.2],[6.0,0.2],[6.2,2.0],[6.3,-0.4],[6.5,0.7],
    [6.6,-1.2],[6.8,1.3],[6.9,0.0],[7.1,0.9],[7.2,2.3],[7.4,-0.6],[7.5,0.5],[7.7,1.8],[7.8,-0.3],[8.0,0.8],
    [8.1,-1.0],[8.3,1.3],[8.4,0.1],[8.6,0.5],[8.7,2.1],[8.9,-0.7],[9.0,0.7],[9.2,-0.1],[9.4,1.5],[9.6,-1.2],
    [9.8,0.3],[10.0,1.0],[10.3,-0.5],[10.5,1.8],[10.8,0.2],[11.1,-1.5],[11.4,0.6],[11.8,-0.3],[12.2,1.0],[12.7,-0.9],
    [13.3,1.3],[14.0,-1.5],[15.0,0.5],[16.1,-0.6],[17.2,-1.8],[18.5,0.4],[20.1,-1.0],[22.0,0.1],[24.2,-1.7],[26.5,0.4],
    [29.0,-0.9],[32.0,-1.4],[35.5,-0.1],[39.0,-1.2],[43.0,-0.5]
];

// --- circ2 ---
const circ2Beech = [
    [6.9,19.4],[34.3,11.1],[37.0,10.7],[32.2,8.6],[19.3,7.9],[33.6,7.6],[40.6,7.4],[22.9,7.2],[53.5,7.1],[9.1,7.1],
    [9.4,7.0],[40.1,6.7],[28.4,6.05],[21.0,6.2],[22.0,6.25],[71.0,6.2],[7.1,6.0],[7.3,5.75],[10.6,5.8],[30.6,5.7],
    [31.3,5.3],[37.9,5.45],[6.4,5.5],[13.7,5.0],[9.6,5.2],[10.2,4.8],[10.2,4.55],[22.0,4.8],[34.1,4.5],[34.1,4.2],
    [44.0,4.8],[52.6,3.05],[27.2,4.2],[43.3,3.8],[31.8,3.85],[45.9,3.55],[47.5,3.6],[34.3,3.5],[29.8,3.2],[25.9,3.3],
    [31.8,3.2],[50.1,2.55],[49.9,2.45],[54.0,2.2],[54.5,1.7],[57.3,0.8],[57.7,0.35],[54.0,-0.6],[56.6,-1.15],[55.9,-1.8],
    [57.0,-2.5],[63.9,-3.7],[50.7,-4.85],[51.2,-5.6],[45.0,-4.4],[43.5,-4.3],[43.6,-3.7],[42.5,-4.4],[41.5,-3.7],[41.2,-3.8],
    [40.9,-2.9],[41.2,-2.1],[39.8,-3.1],[37.7,-4.3],[36.5,-8.5],[40.2,-13.6],[35.6,-4.1],[33.6,-4.3],[32.0,-4.3],[32.7,-2.45],
    [31.8,-2.45],[30.4,-2.6],[27.2,-2.65],[24.4,-2.5],[21.6,-2.45],[22.9,-5.1],[23.7,-5.4],[24.0,-5.7],[8.5,-2.75],[6.5,-1.7],
    [13.9,-1.2],[12.4,-1.3],[20.6,-1.4],[20.2,-1.6],[25.1,-1.5],[26.4,-1.85],[27.1,-1.4],[29.9,-1.0],[32.3,-1.3],[35.3,-1.25],
    [37.3,-1.9],[38.6,-1.75],[42.9,-2.1],[45.5,-2.55],[47.6,-1.8],[49.8,-1.3],[50.3,-0.65],[49.1,-0.3],[51.0,0.15],
    // dense part of the cloud
    [6.1,1.9],[6.4,0.7],[6.8,2.6],[7.1,0.0],[7.4,1.4],[7.7,3.1],[8.0,0.9],[8.3,2.1],[8.6,-0.2],[8.9,1.6],
    [9.2,2.8],[9.5,0.5],[9.8,1.9],[10.1,1.1],[10.4,3.4],[10.7,-0.1],[11.0,1.5],[11.3,2.3],[11.6,0.8],[11.9,2.0],
    [12.2,-0.5],[12.5,1.2],[12.8,2.9],[13.1,0.6],[13.4,1.7],[13.7,0.2],[14.0,2.4],[14.4,1.0],[14.8,1.8],[15.2,-0.2],
    [15.6,1.3],[16.0,2.6],[16.4,0.7],[16.8,1.5],[17.2,0.1],[17.7,2.1],[18.2,0.9],[18.7,2.7],[19.2,0.4],[19.8,1.6],
    [20.4,-0.4],[21.0,1.1],[21.7,2.0],[22.4,0.5],[23.2,2.4],[24.0,-0.1],[24.8,1.3],[25.6,0.7],[26.5,-0.7],[27.4,1.1],
    [28.3,0.4],[29.2,-0.3],[30.2,0.9],[31.2,1.7],[32.2,-0.2],[33.2,0.6],[34.2,-0.9],[35.2,0.3],[36.2,1.2],[37.2,-0.7],
    [38.2,0.5],[39.2,-0.1],[40.2,1.0],[41.2,-0.9],[42.2,0.3],[43.2,1.3],[44.2,-0.6],[45.2,0.1],[46.2,0.8],[47.2,-1.0],
    [48.2,0.0],[49.2,0.6],[50.2,-0.6],[51.2,0.2],[52.7,-0.4],
    [6.2,1.6],[6.4,2.5],[6.6,0.4],[6.9,1.9],[7.1,1.2],[7.4,2.8],[7.7,-0.2],[8.0,1.6],[8.3,0.7],[8.6,2.6],
    [8.9,1.0],[9.2,2.2],[9.5,-0.5],[9.8,1.5],[10.1,3.0],[10.4,0.8],[10.7,2.0],[11.0,0.2],[11.3,1.3],[11.6,3.3],
    [11.9,0.5],[12.2,1.8],[12.5,2.4],[12.8,-0.1],[13.1,1.4],[13.4,3.6],[13.7,1.1],[14.0,2.1],[14.4,0.1],[14.7,1.6],
    [15.1,2.5],[15.5,0.7],[15.9,1.9],[16.3,-0.4],[16.7,1.3],[17.1,3.1],[17.6,0.8],[18.1,1.7],[18.6,0.0],[19.1,1.4],
    [19.7,2.4],[20.3,0.9],[21.0,0.1],[21.7,1.5],[22.4,1.0],[23.2,-0.3],[24.0,1.2],[24.8,2.2],[26.0,0.5],[27.5,-0.1],
    [29.0,1.6],[30.5,0.6],[32.5,-0.2],[34.5,1.1],[36.5,0.1],[38.5,0.7],[40.5,-0.9],[42.5,1.1],[44.5,0.1],[46.5,0.6],
    [48.5,-0.8],[50.5,0.3],[36.8,-1.0],[39.8,2.2],[41.8,-0.1],[33.6,2.2],[30.0,-0.9],[27.8,2.4],[25.6,-1.0],[22.8,3.1],
    [6.1,1.7],[6.5,1.2],[6.8,2.3],[7.2,0.7],[7.5,1.9],[7.8,2.6],[8.1,0.5],[8.4,1.4],[8.7,2.0],[9.0,2.5],
    [9.3,1.1],[9.6,1.6],[9.9,0.2],[10.2,1.9],[10.5,2.8],[10.8,0.9],[11.1,1.4],[11.4,2.1],[11.7,-0.1],[12.0,1.7],
    [12.3,2.9],[12.6,0.8],[12.9,1.5],[13.2,2.3],[13.5,0.5],[13.8,1.2],[14.2,1.8],[14.5,3.0],[14.9,0.3],[15.3,1.5],
    [15.7,2.2],[16.1,1.1],[16.5,0.1],[16.9,1.8],[17.4,0.9],[17.9,2.6],[18.4,1.3],[18.9,0.0],[19.4,1.1],[20.0,2.0],
    [21.2,0.8],[23.5,1.5],[25.9,0.2],[28.6,1.0],[31.5,-0.3],[33.8,0.6],[36.7,1.2],[39.3,-0.2],[41.6,0.7],[44.2,-0.8],
    [46.8,0.3],[49.5,-0.1],[35.3,-1.1],[27.0,-0.6],[37.9,2.0]
];
const circ2Spruce = [
    [27.9,18.4],[5.5,12.0],[5.5,10.9],[6.9,10.65],[6.7,8.6],[6.1,7.55],[9.8,7.5],[11.4,7.1],[5.6,6.7],[5.5,6.55],
    [11.1,6.2],[13.0,6.0],[5.6,5.8],[5.6,5.55],[5.3,5.3],[18.8,5.9],[22.0,6.5],[25.0,7.0],[27.0,6.8],[27.6,7.05],
    [30.0,7.5],[47.9,8.0],[46.1,5.2],[50.0,4.8],[52.3,4.05],[52.2,2.8],[54.0,2.45],[54.4,0.95],[55.2,1.3],[61.4,1.45],
    [62.0,-0.7],[59.1,-2.3],[60.2,-3.2],[57.3,-2.3],[56.0,-2.2],[55.4,-7.1],[50.4,-9.95],[53.4,-2.7],[52.7,-3.4],[52.0,-2.9],
    [52.0,-2.6],[51.9,-2.0],[51.6,-1.4],[52.5,-1.4],[51.9,-0.55],[48.4,-2.1],[48.1,-1.5],[47.9,-3.85],[44.0,-2.45],[44.0,-1.8],
    [41.8,-4.5],[42.5,-4.35],[39.5,-8.5],[36.0,-3.1],[35.3,-3.5],[34.9,-2.65],[33.7,-2.9],[33.3,-3.3],[33.1,-3.05],[32.0,4.5],
    [31.9,3.9],[33.4,2.7],[24.6,-8.2],[20.7,-6.2],[20.2,-5.1],[23.5,-4.6],[23.3,-3.4],[21.8,-2.85],[21.0,-3.25],[19.4,-2.3],
    [17.8,-3.2],[16.7,-2.6],[14.9,-3.4],[14.0,-4.4],[15.9,-5.3],[12.2,-5.35],[12.9,-2.55],[12.3,-2.3],[11.4,-2.2],[10.6,-2.2],
    [9.9,-2.3],[10.5,-2.0],[8.0,-1.45],[7.2,-1.55],[5.2,-1.4],[5.3,-0.7],[9.5,-1.2],[14.9,-1.35],[14.8,-1.35],[19.1,-1.75],
    [21.6,-1.4],[27.2,-2.3],[28.2,-1.4],[30.8,-1.05],[35.6,-1.85],[37.8,-1.25],[40.0,-1.5],[42.5,-0.55],[45.1,-1.15],[46.9,-0.55],
    [24.9,3.4],[19.4,4.5],[15.3,4.1],[17.1,3.85],[19.1,3.1],[27.4,2.15],[31.6,2.3],[36.1,1.4],[39.3,2.05],[40.6,2.3],
    [42.5,2.7],[44.1,0.9],[46.6,3.1],[48.0,2.45],[49.5,2.5],[45.0,1.05],[37.5,0.3],[35.4,0.55],
    // dense part of the cloud
    [5.1,1.8],[5.3,0.6],[5.4,2.9],[5.6,-0.5],[5.8,2.2],[6.0,1.0],[6.1,3.6],[6.3,0.1],[6.4,2.5],[6.6,1.3],
    [6.7,3.2],[6.9,1.6],[7.0,-0.8],[7.2,0.7],[7.3,2.3],[7.5,3.9],[7.6,1.2],[7.8,-0.2],[7.9,1.8],[8.1,2.7],
    [8.2,0.3],[8.4,1.5],[8.5,4.3],[8.7,-1.0],[8.8,0.9],[9.0,2.2],[9.1,1.2],[9.3,-0.1],[9.4,3.0],[9.6,1.6],
    [9.8,0.5],[9.9,2.0],[10.1,-0.6],[10.3,1.0],[10.4,2.5],[10.6,1.4],[10.8,0.1],[11.0,3.3],[11.1,0.7],[11.3,1.9],
    [11.6,1.1],[11.8,-0.4],[12.0,2.6],[12.2,1.3],[12.5,0.4],[12.7,2.0],[13.0,-0.2],[13.3,1.1],[13.6,2.9],[13.9,0.6],
    [14.2,1.6],[14.6,-0.7],[15.0,0.8],[15.4,2.1],[15.8,0.2],[16.3,1.3],[16.9,-0.4],[17.4,0.9],[18.1,1.8],[18.8,-0.1],
    [19.6,0.6],[20.5,1.5],[21.4,-0.6],[22.6,0.4],[23.9,1.2],[25.2,-0.3],[26.8,0.6],[28.1,1.7],[29.7,-0.3],[31.3,0.3],
    [33.1,-0.8],[34.6,1.2],[36.3,0.4],[38.1,-0.5],[39.6,1.4],[41.1,0.2],[42.9,-0.5],[44.6,0.8],[46.1,-0.4],[48.3,0.2],
    [50.6,-0.9],[52.9,-0.1],
    [5.1,1.2],[5.2,3.1],[5.4,0.2],[5.5,2.0],[5.7,3.5],[5.8,0.6],[6.0,2.3],[6.1,-0.6],[6.2,2.9],[6.4,1.6],
    [6.5,4.0],[6.7,0.4],[6.8,2.4],[7.0,1.3],[7.1,3.1],[7.3,-0.1],[7.4,1.8],[7.6,0.9],[7.7,2.6],[7.9,1.4],
    [8.0,-0.4],[8.2,2.1],[8.3,3.4],[8.5,0.7],[8.6,1.7],[8.8,2.9],[8.9,0.2],[9.1,1.5],[9.2,2.3],[9.4,1.0],
    [9.6,3.6],[9.7,-0.5],[9.9,1.3],[10.1,2.5],[10.2,1.7],[10.4,0.4],[10.6,2.0],[10.8,3.2],[11.0,1.1],[11.2,0.0],
    [11.4,2.3],[11.6,1.4],[11.8,0.7],[12.0,2.8],[12.3,-0.5],[12.5,1.6],[12.8,0.9],[13.1,2.3],[13.4,0.2],[13.7,1.4],
    [14.0,3.5],[14.3,0.8],[14.7,2.0],[15.1,-0.2],[15.5,1.4],[16.0,2.7],[16.5,0.5],[17.0,1.8],[17.6,-0.7],[18.3,1.3],
    [19.0,2.5],[20.0,0.0],[21.0,1.4],[22.0,0.4],[23.2,-0.9],[24.5,2.2],[26.0,-0.4],[27.3,0.6],[28.8,-0.7],[30.2,1.4],
    [5.1,2.0],[5.3,0.9],[5.4,2.8],[5.6,1.4],[5.7,0.1],[5.9,2.4],[6.0,1.2],[6.2,3.3],[6.3,0.7],[6.5,1.8],
    [6.6,-0.2],[6.8,2.5],[6.9,1.0],[7.1,2.0],[7.2,3.6],[7.4,0.5],[7.5,1.6],[7.7,3.0],[7.8,0.7],[8.0,1.9],
    [8.1,0.0],[8.3,2.4],[8.4,1.1],[8.6,1.5],[8.7,3.3],[8.9,0.3],[9.0,1.8],[9.2,0.9],[9.4,2.6],[9.6,-0.2],
    [9.8,1.3],[10.0,2.1],[10.3,0.5],[10.5,3.0],[10.8,1.2],[11.1,-0.5],[11.4,1.7],[11.8,0.8],[12.2,2.1],[12.7,0.2],
    [13.3,2.5],[14.0,-0.3],[15.0,1.6],[16.1,0.6],[17.2,-0.6],[18.5,1.4],[20.1,0.2],[22.0,1.1],[24.2,-0.5],[26.5,1.3],
    [29.0,0.2],[32.0,-0.3],[35.5,0.7],[39.0,-0.2],[43.0,0.3]
];

// --- ell ---
const ellBeech = [
    [71.0,6.2],[33.6,7.15],[42.4,5.7],[34.3,4.9],[9.4,6.2],[9.1,5.1],[5.2,5.4],[5.2,4.0],[5.2,3.7],[7.5,3.8],
    [9.3,3.45],[57.3,4.0],[37.9,3.5],[30.6,3.2],[31.5,3.0],[15.1,3.1],[14.7,3.0],[10.0,2.8],[22.5,2.85],[45.7,3.1],
    [54.0,2.85],[51.9,2.3],[46.2,2.55],[41.3,2.6],[48.1,2.25],[50.0,1.55],[54.5,0.8],[54.0,0.95],[57.7,-0.1],[57.0,-1.4],
    [55.9,-1.1],[56.6,-2.1],[63.9,-3.35],[56.6,-5.6],[53.5,-7.1],[52.0,-4.7],[51.2,-2.3],[50.3,-1.6],[47.5,-2.75],[47.55,-2.35],
    [48.4,-4.65],[47.5,-8.5],[45.0,-4.9],[43.4,-4.2],[44.4,-3.5],[45.5,-3.8],[41.5,-3.5],[42.5,-9.3],[39.5,-6.9],[39.9,-7.85],
    [40.9,-6.7],[37.7,-7.9],[34.7,-11.2],[35.0,-5.05],[35.6,-3.9],[36.1,-3.5],[32.0,-4.8],[33.1,-4.1],[32.3,-6.5],[28.9,-7.2],
    [28.4,-5.0],[27.3,-6.1],[27.2,-4.9],[27.25,-4.5],[26.4,-4.2],[25.6,-4.2],[24.9,-3.5],[24.3,-6.4],[24.5,-7.05],[23.1,-7.0],
    [21.7,-8.3],[20.4,-7.6],[21.2,-7.35],[23.5,-4.4],[23.7,-4.7],[22.2,-4.4],[21.5,-4.45],[19.8,-5.3],[18.4,-5.6],[18.8,-4.5],
    [18.0,-4.6],[20.5,-4.1],[19.8,-3.85],[17.3,-3.9],[17.6,-3.55],[8.6,-5.0],[12.4,-5.4],[13.3,-4.8],[11.8,-4.4],[14.4,-2.5],
    [14.5,-2.6],[15.6,-2.9],[16.2,-1.85],[19.3,-2.3],[19.35,-2.6],[21.2,-2.15],[22.9,-1.8],[25.3,-2.2],[27.2,-2.45],[28.6,-2.3],
    [29.8,-2.9],[31.8,-2.3],[33.3,-3.0],[35.5,-3.1],[36.3,-2.3],[38.3,-2.2],[42.9,-2.6],[44.8,-2.2],[48.6,-1.3],[52.6,-0.55],
    [51.3,-0.25],[50.7,-0.15],
    // dense part of the cloud
    [6.0,0.8],[6.3,-0.4],[6.7,1.4],[7.0,-1.0],[7.3,0.5],[7.6,1.9],[7.9,0.0],[8.2,1.1],[8.5,-1.2],[8.8,0.6],
    [9.1,1.6],[9.4,-0.5],[9.7,0.9],[10.0,0.2],[10.3,2.1],[10.6,-0.9],[10.9,0.4],[11.2,1.3],[11.5,-0.2],[11.8,0.9],
    [12.1,-1.4],[12.4,0.2],[12.7,1.6],[13.0,-0.5],[13.3,0.6],[13.6,-0.9],[13.9,1.2],[14.3,-0.1],[14.6,0.7],[15.0,-1.2],
    [15.4,0.2],[15.8,1.3],[16.2,-0.4],[16.6,0.4],[17.0,-1.0],[17.5,0.8],[18.0,-0.3],[18.5,1.3],[19.0,-0.8],[19.6,0.3],
    [20.2,-1.5],[20.8,-0.2],[21.5,0.7],[22.2,-0.9],[23.0,0.9],[23.8,-1.3],[24.6,-0.1],[25.4,-0.8],[26.3,-2.0],[27.2,-0.3],
    [28.1,-1.1],[29.0,-1.7],[30.0,-0.5],[31.0,0.4],[32.0,-1.5],[33.0,-0.8],[34.0,-2.1],[35.0,-1.0],[36.0,0.0],[37.0,-1.8],
    [38.0,-0.6],[39.0,-1.3],[40.0,-0.1],[41.0,-1.9],[42.0,-0.8],[43.0,0.2],[44.0,-1.5],[45.0,-0.7],[46.0,0.0],[47.0,-1.7],
    [48.0,-0.9],[49.0,-0.2],[50.0,-1.3],[51.0,-0.5],[52.5,-1.1],
    [6.2,0.2],[6.4,1.1],[6.6,-0.9],[6.9,0.6],[7.1,-0.2],[7.4,1.4],[7.7,-1.4],[8.0,0.3],[8.3,-0.6],[8.6,1.2],
    [8.9,-0.3],[9.2,0.9],[9.5,-1.6],[9.8,0.2],[10.1,1.6],[10.4,-0.5],[10.7,0.7],[11.0,-1.1],[11.3,0.0],[11.6,1.9],
    [11.9,-0.8],[12.2,0.5],[12.5,1.0],[12.8,-1.4],[13.1,0.1],[13.4,2.2],[13.7,-0.3],[14.0,0.8],[14.4,-1.2],[14.7,0.2],
    [15.1,1.1],[15.5,-0.7],[15.9,0.5],[16.3,-1.7],[16.7,-0.1],[17.1,1.6],[17.6,-0.6],[18.1,0.3],[18.6,-1.4],[19.1,-0.1],
    [19.7,0.9],[20.3,-0.6],[21.0,-1.4],[21.7,0.0],[22.4,-0.5],[23.2,-1.8],[24.0,-0.4],[24.8,0.6],[26.0,-1.2],[27.5,-1.8],
    [29.0,-0.1],[30.5,-1.2],[32.5,-2.0],[34.5,-0.6],[36.5,-1.6],[38.5,-1.0],[40.5,-2.5],[42.5,-0.4],[44.5,-1.3],[46.5,-0.7],
    [48.5,-2.1],[50.5,-1.0],[36.8,-2.7],[39.8,0.6],[41.8,-1.7],[33.6,0.6],[30.0,-2.6],[27.8,0.8],[25.6,-2.6],[22.8,1.3],
    [6.1,0.4],[6.5,-0.1],[6.8,0.9],[7.2,-0.6],[7.5,0.5],[7.8,1.1],[8.1,-0.8],[8.4,0.1],[8.7,0.7],[9.0,1.0],
    [9.3,-0.3],[9.6,0.3],[9.9,-1.1],[10.2,0.5],[10.5,1.3],[10.8,-0.4],[11.1,0.1],[11.4,0.8],[11.7,-1.4],[12.0,0.3],
    [12.3,1.4],[12.6,-0.5],[12.9,0.2],[13.2,0.9],[13.5,-0.9],[13.8,-0.1],[14.2,0.4],[14.5,1.5],[14.9,-1.0],[15.3,0.2],
    [15.7,0.8],[16.1,-0.3],[16.5,-1.3],[16.9,0.5],[17.4,-0.5],[17.9,1.1],[18.4,-0.2],[18.9,-1.4],[19.4,-0.3],[20.0,0.5],
    [21.2,-0.8],[23.5,-0.2],[25.9,-1.4],[28.6,-0.6],[31.5,-2.0],[33.8,-1.0],[36.7,-0.3],[39.3,-1.7],[41.6,-0.6],[44.2,-2.2],
    [46.8,-0.9],[49.5,-1.4],[35.3,-2.7],[27.0,-2.3],[37.9,0.4]
];
const ellSpruce = [
    [30.0,7.5],[25.0,6.7],[26.9,6.95],[32.0,5.95],[19.4,5.25],[22.0,4.95],[22.1,4.95],[32.4,4.9],[27.5,4.45],[52.3,4.9],
    [47.2,4.1],[13.0,4.35],[5.6,5.0],[25.0,2.85],[17.3,2.7],[35.4,2.95],[39.3,2.85],[44.9,3.1],[60.2,2.4],[62.0,1.7],
    [61.4,1.4],[54.0,1.7],[53.6,0.55],[59.1,-0.05],[55.2,-0.4],[54.4,-2.2],[56.0,-3.7],[55.4,-7.35],[57.3,-17.1],[53.4,-4.75],
    [52.7,-5.8],[52.0,-4.15],[51.7,-2.8],[51.9,-0.9],[52.0,-1.0],[50.0,-6.3],[48.1,-8.3],[48.15,-8.25],[48.3,-11.6],[49.5,-11.6],
    [47.9,-2.2],[47.9,-3.0],[46.9,-1.85],[48.4,-5.0],[44.0,-5.8],[42.5,-5.8],[42.5,-5.25],[44.6,-5.0],[44.2,-4.8],[41.7,-13.7],
    [43.0,-9.3],[41.3,-1.85],[40.6,-3.5],[40.55,-3.8],[38.0,-3.9],[39.6,-1.7],[36.0,-3.25],[35.7,-2.55],[34.7,-3.55],[33.0,-8.95],
    [29.1,-11.4],[24.6,-11.0],[22.8,-7.5],[21.8,-6.95],[20.2,-6.25],[18.9,-6.25],[25.6,-3.7],[27.2,-4.1],[28.4,-3.95],[22.3,-4.8],
    [21.9,-3.3],[23.2,-3.35],[23.9,-5.3],[15.9,-6.95],[14.9,-7.7],[10.6,-5.3],[10.6,-4.2],[10.9,-4.35],[11.4,-4.3],[12.2,-3.9],
    [12.3,-3.8],[13.6,-4.4],[9.1,-3.45],[10.5,-3.5],[7.0,-3.5],[7.3,-3.0],[16.4,-4.6],[16.8,-4.7],[17.8,-5.6],[19.2,-5.05],
    [19.6,-4.3],[17.9,-3.1],[16.8,-2.8],[14.9,-3.4],[13.7,-3.5],[12.4,-2.65],[12.45,-2.7],[9.7,-2.55],[10.4,-2.4],[8.0,-2.2],
    [8.3,-2.5],[6.5,-2.3],[6.9,-2.1],[5.8,-1.95],[15.1,-1.6],[12.5,-1.1],[17.8,-2.3],[19.3,-1.65],[21.7,-1.0],[23.2,-0.4],
    [25.6,-0.85],[27.5,-1.9],[30.3,-3.2],[31.6,-3.0],[34.3,-2.2],[35.8,-1.2],[39.5,-1.1],[40.5,-0.5],[45.2,-1.35],[43.1,-2.8],
    [46.4,0.15],[47.9,0.85],[50.0,1.15],[46.6,1.2],[43.9,1.25],[41.0,0.9],[38.2,0.8],[36.6,2.3],[39.5,1.9],[30.5,1.85],
    [33.2,1.15],[27.7,0.85],[24.0,0.2],[18.0,1.8],[12.4,1.65],[14.1,1.5],[5.6,2.45],[6.8,2.6],[8.3,1.85],
    // dense part of the cloud
    [5.1,0.3],[5.3,-0.9],[5.4,1.3],[5.6,-1.7],[5.8,0.7],[6.0,-0.4],[6.1,1.9],[6.3,-1.3],[6.4,0.9],[6.6,-0.2],
    [6.7,1.5],[6.9,0.2],[7.0,-2.1],[7.2,-0.7],[7.3,0.6],[7.5,-2.6],[7.6,-0.1],[7.8,-1.5],[7.9,0.3],[8.1,1.1],
    [8.2,-1.0],[8.4,0.0],[8.5,-2.9],[8.7,-2.3],[8.8,-0.5],[9.0,0.7],[9.1,-0.2],[9.3,-1.4],[9.4,1.2],[9.6,0.1],
    [9.8,-0.8],[9.9,0.5],[10.1,-1.9],[10.3,-0.4],[10.4,0.9],[10.6,-0.1],[10.8,-1.2],[11.0,1.4],[11.1,-0.7],[11.3,0.3],
    [11.6,-0.3],[11.8,-1.7],[12.0,0.9],[12.2,-0.2],[12.5,-0.9],[12.7,0.5],[13.0,-1.5],[13.3,-0.3],[13.6,1.1],[13.9,-0.8],
    [14.2,0.1],[14.6,-2.0],[15.0,-0.6],[15.4,0.5],[15.8,-1.2],[16.3,-0.2],[16.9,-1.8],[17.4,-0.6],[18.1,0.3],[18.8,-1.5],
    [19.6,-0.8],[20.5,0.0],[21.4,-2.1],[22.6,-1.1],[23.9,-0.3],[25.2,-1.7],[26.8,-0.9],[28.1,0.2],[29.7,-1.6],[31.3,-1.1],
    [33.1,-2.2],[34.6,-0.2],[36.3,-1.1],[38.1,-1.9],[39.6,0.0],[41.1,-1.3],[42.9,-1.8],[44.6,-0.6],[46.1,-1.6],[48.3,-1.0],
    [50.6,-2.1],[52.9,-1.3],
    [5.1,-0.2],[5.2,1.5],[5.4,-1.4],[5.5,0.4],[5.7,1.8],[5.8,-0.9],[6.0,0.7],[6.1,-2.2],[6.2,1.2],[6.4,0.0],
    [6.5,2.2],[6.7,-1.2],[6.8,0.7],[7.0,-0.4],[7.1,1.4],[7.3,-1.7],[7.4,0.2],[7.6,-0.8],[7.7,1.0],[7.9,-0.3],
    [8.0,-2.0],[8.2,0.5],[8.3,1.6],[8.5,-1.0],[8.6,0.0],[8.8,1.1],[8.9,-1.4],[9.1,-0.2],[9.2,0.6],[9.4,-0.7],
    [9.6,1.7],[9.7,-2.2],[9.9,-0.4],[10.1,0.8],[10.2,0.0],[10.4,-1.3],[10.6,0.3],[10.8,1.4],[11.0,-0.6],[11.2,-1.7],
    [11.4,0.6],[11.6,-0.3],[11.8,-1.0],[12.0,1.0],[12.3,-2.2],[12.5,-0.1],[12.8,-0.8],[13.1,0.6],[13.4,-1.6],[13.7,-0.3],
    [14.0,1.5],[14.3,-0.9],[14.7,0.3],[15.1,-1.9],[15.5,-0.3],[16.0,0.9],[16.5,-1.2],[17.0,0.1],[17.6,-2.4],[18.3,-0.5],
    [19.0,0.6],[20.0,-1.7],[21.0,-0.4],[22.0,-1.3],[23.2,-2.6],[24.5,0.2],[26.0,-2.1],[27.3,-1.1],[28.8,-2.4],[30.2,-0.4],
    [5.1,0.0],[5.3,-1.1],[5.4,0.9],[5.6,-0.4],[5.7,-1.8],[5.9,0.5],[6.0,-0.7],[6.2,1.4],[6.3,-1.2],[6.5,0.1],
    [6.6,-2.0],[6.8,0.6],[6.9,-0.9],[7.1,0.2],[7.2,1.7],[7.4,-1.4],[7.5,-0.2],[7.7,1.1],[7.8,-1.1],[8.0,0.1],
    [8.1,-1.8],[8.3,0.6],[8.4,-0.6],[8.6,-0.2],[8.7,1.4],[8.9,-1.5],[9.0,0.0],[9.2,-0.8],[9.4,0.8],[9.6,-2.0],
    [9.8,-0.4],[10.0,0.4],[10.3,-1.2],[10.5,1.1],[10.8,-0.5],[11.1,-2.3],[11.4,-0.1],[11.8,-1.0],[12.2,0.3],[12.7,-1.6],
    [13.3,0.6],[14.0,-2.3],[15.0,-0.3],[16.1,-1.3],[17.2,-2.6],[18.5,-0.4],[20.1,-1.7],[22.0,-0.7],[24.2,-2.4],[26.5,-0.4],
    [29.0,-1.6],[32.0,-2.1],[35.5,-0.8],[39.0,-1.9],[43.0,-1.2]
];

const BEECH_POINTS = [gamBeech, tegamBeech, circBeech, circ2Beech, ellBeech];
const SPRUCE_POINTS = [gamSpruce, tegamSpruce, circSpruce, circ2Spruce, ellSpruce];

// pooled smooth (red line, left column)
const POOLED_X = [5, 7.5, 10, 13, 16, 19, 22, 25, 28, 31, 34, 37, 40, 43, 46, 50, 55, 60, 65, 71];
const gamPooledFit   = [1.85, 1.55, 1.22, 0.8, 0.47, 0.2, 0.1, 0.0, -0.09, -0.17, -0.24, -0.3, -0.36, -0.42, -0.46, -0.49, -0.48, -0.41, -0.3, -0.12];
const tegamPooledFit = [1.33, 1.12, 0.95, 0.68, 0.45, 0.3, 0.1, -0.08, -0.15, -0.18, -0.15, -0.1, -0.07, -0.09, -0.12, -0.12, -0.12, -0.12, -0.12, -0.12];
const circPooledFit  = [0.75, 0.5, 0.25, -0.15, -0.5, -0.8, -1.0, -1.15, -1.23, -1.2, -1.12, -1.08, -0.98, -0.88, -0.84, -0.72, -0.54, -0.36, -0.19, 0.0];
const circ2PooledFit = [2.2, 1.75, 1.38, 1.02, 0.88, 0.81, 0.74, 0.65, 0.54, 0.42, 0.29, 0.14, 0.05, -0.06, -0.15, -0.24, -0.31, -0.33, -0.33, -0.29];
const ellPooledFit   = [0.42, 0.0, -0.4, -0.75, -0.98, -1.1, -1.14, -1.07, -0.98, -0.88, -0.85, -0.89, -0.95, -1.02, -1.09, -1.15, -1.2, -1.3, -1.36, -1.4];
const POOLED_FITS = [gamPooledFit, tegamPooledFit, circPooledFit, circ2PooledFit, ellPooledFit];

// species smooths with confidence bands (right column)
const SMOOTH_X = [5, 8, 11, 14, 17, 20, 23, 26, 30, 35, 40, 45, 50, 55, 60, 65, 71];

const gamBeechFit  = [2.0, 2.05, 1.95, 1.7, 1.4, 1.0, 0.4, 0.1, 0.05, 0.0, -0.1, -0.15, -0.1, 0.1, 0.4, 0.8, 1.3];
const gamBeechHi   = [2.9, 2.75, 2.55, 2.2, 1.9, 1.5, 0.85, 0.5, 0.45, 0.35, 0.25, 0.25, 0.45, 1.0, 1.9, 3.0, 4.35];
const gamBeechLo   = [1.1, 1.35, 1.35, 1.2, 0.9, 0.5, -0.05, -0.3, -0.35, -0.35, -0.45, -0.55, -0.65, -0.8, -1.1, -1.4, -1.75];
const gamSpruceFit = [2.0, 1.3, 0.8, 0.45, 0.1, -0.2, -0.35, -0.4, -0.45, -0.5, -0.75, -0.95, -1.1, -1.3, -1.45, -1.55, -1.65];
const gamSpruceHi  = [2.4, 1.65, 1.1, 0.75, 0.45, 0.15, 0.0, -0.05, -0.1, -0.15, -0.35, -0.45, -0.4, -0.3, 0.05, 0.55, 1.3];
const gamSpruceLo  = [1.6, 0.95, 0.5, 0.15, -0.25, -0.55, -0.7, -0.75, -0.8, -0.85, -1.15, -1.45, -1.8, -2.3, -2.95, -3.65, -4.6];

const tegamBeechFit  = [2.1, 1.9, 1.7, 1.4, 0.95, 0.5, -0.1, -0.35, -0.1, 0.15, 0.2, 0.2, 0.25, 0.45, 0.8, 1.15, 1.65];
const tegamBeechHi   = [3.2, 2.7, 2.3, 1.9, 1.45, 0.95, 0.35, 0.05, 0.3, 0.5, 0.55, 0.6, 0.8, 1.35, 2.2, 3.25, 5.1];
const tegamBeechLo   = [1.0, 1.1, 1.1, 0.9, 0.45, 0.05, -0.55, -0.75, -0.45, -0.2, -0.15, -0.2, -0.3, -0.45, -0.6, -0.95, -1.8];
const tegamSpruceFit = [1.4, 0.95, 0.7, 0.45, -0.35, -0.7, -0.8, -0.85, -0.8, -0.7, -0.6, -0.6, -0.65, -0.75, -0.95, -1.1, -1.35];
const tegamSpruceHi  = [1.8, 1.3, 1.0, 0.75, 0.0, -0.35, -0.45, -0.5, -0.45, -0.35, -0.2, -0.1, 0.05, 0.25, 0.55, 1.1, 1.85];
const tegamSpruceLo  = [1.0, 0.6, 0.4, 0.15, -0.7, -1.05, -1.15, -1.2, -1.15, -1.05, -1.0, -1.1, -1.35, -1.75, -2.45, -3.3, -4.55];

const circBeechFit  = [1.15, 0.75, 0.4, 0.1, -0.3, -0.65, -1.0, -1.0, -0.9, -0.7, -0.5, -0.45, -0.3, 0.05, 0.45, 1.0, 1.65];
const circBeechHi   = [2.15, 1.45, 0.95, 0.6, 0.15, -0.2, -0.55, -0.6, -0.5, -0.35, -0.15, -0.05, 0.25, 0.95, 1.85, 3.1, 4.65];
const circBeechLo   = [0.15, 0.05, -0.15, -0.4, -0.75, -1.1, -1.45, -1.4, -1.3, -1.05, -0.85, -0.85, -0.85, -0.85, -0.95, -1.1, -1.35];
const circSpruceFit = [1.15, 0.3, 0.0, -0.35, -0.75, -1.05, -1.25, -1.4, -1.5, -1.45, -1.35, -1.3, -1.25, -1.15, -1.05, -1.0, -0.95];
const circSpruceHi  = [1.5, 0.6, 0.3, -0.05, -0.45, -0.75, -0.95, -1.05, -1.15, -1.1, -0.95, -0.85, -0.65, -0.25, 0.35, 1.1, 2.15];
const circSpruceLo  = [0.8, 0.0, -0.3, -0.65, -1.05, -1.35, -1.55, -1.75, -1.85, -1.8, -1.75, -1.75, -1.85, -2.05, -2.45, -3.1, -4.05];

const circ2BeechFit  = [2.45, 2.1, 1.75, 1.45, 1.2, 0.95, 0.75, 0.65, 0.55, 0.2, 0.0, -0.15, -0.1, 0.15, 0.55, 1.2, 2.1];
const circ2BeechHi   = [3.3, 2.7, 2.25, 1.9, 1.6, 1.35, 1.15, 1.0, 0.9, 0.55, 0.35, 0.25, 0.4, 0.95, 1.75, 3.0, 4.65];
const circ2BeechLo   = [1.6, 1.5, 1.25, 1.0, 0.8, 0.55, 0.35, 0.3, 0.2, -0.15, -0.35, -0.55, -0.6, -0.65, -0.65, -0.6, -0.45];
const circ2SpruceFit = [2.45, 1.2, 0.7, 0.6, 0.5, 0.25, 0.2, 0.1, 0.0, 0.0, -0.1, -0.25, -0.5, -0.9, -1.25, -1.5, -1.9];
const circ2SpruceHi  = [2.8, 1.5, 0.95, 0.85, 0.75, 0.5, 0.45, 0.35, 0.25, 0.3, 0.25, 0.15, 0.05, -0.05, 0.05, 0.3, 0.6];
const circ2SpruceLo  = [2.1, 0.9, 0.45, 0.35, 0.25, 0.0, -0.05, -0.15, -0.25, -0.3, -0.45, -0.65, -1.05, -1.75, -2.55, -3.3, -4.4];

const ellBeechFit  = [1.35, 0.65, 0.1, -0.45, -0.85, -1.1, -1.3, -1.2, -0.9, -0.7, -0.55, -0.5, -0.5, -0.25, 0.1, 0.5, 1.05];
const ellBeechHi   = [2.2, 1.25, 0.55, -0.05, -0.5, -0.75, -0.95, -0.85, -0.55, -0.4, -0.25, -0.15, 0.0, 0.5, 1.2, 2.2, 3.7];
const ellBeechLo   = [0.5, 0.05, -0.35, -0.85, -1.2, -1.45, -1.65, -1.55, -1.25, -1.0, -0.85, -0.85, -1.0, -1.0, -1.0, -1.2, -1.6];
const ellSpruceFit = [0.35, -0.35, -0.7, -0.9, -1.1, -1.25, -1.15, -0.8, -0.55, -0.6, -1.0, -1.4, -1.8, -2.3, -2.8, -3.2, -3.5];
const ellSpruceHi  = [0.7, -0.05, -0.4, -0.6, -0.8, -0.95, -0.85, -0.5, -0.25, -0.3, -0.65, -0.95, -1.15, -1.25, -1.1, -0.9, -0.65];
const ellSpruceLo  = [0.0, -0.65, -1.0, -1.2, -1.4, -1.55, -1.45, -1.1, -0.85, -0.9, -1.35, -1.85, -2.45, -3.35, -4.5, -5.5, -6.35];

const BEECH_SMOOTH = [
    [gamBeechFit, gamBeechHi, gamBeechLo], [tegamBeechFit, tegamBeechHi, tegamBeechLo],
    [circBeechFit, circBeechHi, circBeechLo], [circ2BeechFit, circ2BeechHi, circ2BeechLo],
    [ellBeechFit, ellBeechHi, ellBeechLo]
];
const SPRUCE_SMOOTH = [
    [gamSpruceFit, gamSpruceHi, gamSpruceLo], [tegamSpruceFit, tegamSpruceHi, tegamSpruceLo],
    [circSpruceFit, circSpruceHi, circSpruceLo], [circ2SpruceFit, circ2SpruceHi, circ2SpruceLo],
    [ellSpruceFit, ellSpruceHi, ellSpruceLo]
];

// ---------------------------------------------------------------------------
// Layout and style
// ---------------------------------------------------------------------------
const FONT = '"Liberation Sans", Arial, Helvetica, sans-serif';
const BLUE = "#0000FF";
const GREEN = "#00CD00";
const RED = "#FF0000";
const ZERO_GRAY = "#B2B2B2";
const BLUE_BAND = "rgba(0, 0, 255, 0.11)";
const GREEN_BAND = "rgba(0, 255, 0, 0.11)";

// panel boxes on the page
const COL_LEFT = [139, 824, 1509];
const COL_W = 685;
const ROW_TOP = [28, 733, 1437, 2142, 2846];
const ROW_H = [705, 704, 705, 704, 704];

function toPoints(pairs) {
    return pairs.map(function (p) { return {x: p[0], y: p[1]}; });
}

function toCurve(xs, ys) {
    return xs.map(function (x, i) { return {x: x, y: ys[i]}; });
}

function pointSet(pairs, color, order) {
    return {
        data: toPoints(pairs),
        showLine: false,
        pointRadius: 2.5,
        pointBorderWidth: 1.3,
        pointBorderColor: color,
        pointBackgroundColor: "rgba(0,0,0,0)",
        order: order
    };
}

function zeroSet(width, dash, order) {
    return {
        data: [{x: X_MIN, y: 0}, {x: X_MAX, y: 0}],
        borderColor: ZERO_GRAY,
        borderWidth: width,
        borderDash: dash,
        pointRadius: 0,
        fill: false,
        order: order
    };
}

function lineSet(xs, ys, color, width, order) {
    return {
        data: toCurve(xs, ys),
        borderColor: color,
        borderWidth: width,
        pointRadius: 0,
        tension: 0.35,
        fill: false,
        order: order
    };
}

function bandSet(xs, ys, color, fill, order) {
    return {
        data: toCurve(xs, ys),
        borderColor: "rgba(0,0,0,0)",
        borderWidth: 0,
        backgroundColor: color,
        pointRadius: 0,
        tension: 0.35,
        fill: fill,
        order: order
    };
}

// Heavy text: fill plus a thin stroke, closer to the thick R bitmap text.
function heavyText(c, text, x, y, weight) {
    c.fillText(text, x, y);
    c.lineWidth = weight;
    c.strokeText(text, x, y);
}

// Box around each panel.
const panelBox = {
    id: "panelBox",
    afterDraw: function (chart) {
        var a = chart.chartArea;
        var c = chart.ctx;
        c.save();
        c.strokeStyle = "#000";
        c.lineWidth = 1.6;
        c.strokeRect(a.left, a.top, a.right - a.left, a.bottom - a.top);
        c.restore();
    }
};

// Title lines at the top of a panel.
function titlePlugin(lines) {
    return {
        id: "panelTitle",
        afterDraw: function (chart) {
            var a = chart.chartArea;
            var c = chart.ctx;
            c.save();
            c.fillStyle = "#000";
            c.strokeStyle = "#000";
            c.font = "bold 36px " + FONT;
            c.textAlign = "center";
            c.textBaseline = "middle";
            lines.forEach(function (t, i) {
                heavyText(c, t, (a.left + a.right) / 2 - 4, a.top + 32 + i * 39, 1.1);
            });
            c.restore();
        }
    };
}

// Rotated y label: delta with "dbh" subscript, unit and method name.
function methodLabel(method) {
    return {
        id: "methodLabel",
        afterDraw: function (chart) {
            var a = chart.chartArea;
            var c = chart.ctx;
            var parts = [
                {text: "δ", size: 54, shift: 0},
                {text: "dbh", size: 30, shift: 10},
                {text: " (cm)  " + method, size: 49, shift: 0}
            ];
            c.save();
            c.fillStyle = "#000";
            c.strokeStyle = "#000";
            var total = 0;
            parts.forEach(function (p) {
                c.font = "bold " + p.size + "px " + FONT;
                p.w = c.measureText(p.text).width;
                total += p.w;
            });
            c.translate(60, (a.top + a.bottom) / 2);
            c.rotate(-Math.PI / 2);
            c.textAlign = "left";
            c.textBaseline = "alphabetic";
            var x = -total / 2;
            parts.forEach(function (p) {
                c.font = "bold " + p.size + "px " + FONT;
                heavyText(c, p.text, x, p.shift, 1.3);
                x += p.w;
            });
            c.restore();
        }
    };
}

// Shared x axis title under the middle column.
const xAxisTitle = {
    id: "xAxisTitle",
    afterDraw: function (chart) {
        var a = chart.chartArea;
        var c = chart.ctx;
        c.save();
        c.fillStyle = "#000";
        c.font = "46px " + FONT;
        c.textAlign = "center";
        c.textBaseline = "middle";
        c.fillText("dbh (cm)", (a.left + a.right) / 2 - 6, a.bottom + 81);
        c.restore();
    }
};

// Fix the axis box size and drop the automatic label padding so the
// chart area matches the panel box exactly.
function fixedAxis(size, horizontal) {
    return function (s) {
        if (horizontal) {
            s.height = size;
        } else {
            s.width = size;
        }
        s.paddingLeft = 0;
        s.paddingRight = 0;
        s.paddingTop = 0;
        s.paddingBottom = 0;
    };
}

function scaleOptions(row, col, marginLeft, marginBottom) {
    var tickGrid = {
        drawOnChartArea: false,
        drawTicks: true,
        tickLength: 10,
        color: "#000",
        lineWidth: 1.6
    };
    return {
        x: {
            type: "linear",
            min: X_MIN,
            max: X_MAX,
            afterBuildTicks: function (s) { s.ticks = X_TICKS.map(function (v) { return {value: v}; }); },
            afterFit: fixedAxis(marginBottom, true),
            grid: tickGrid,
            border: {display: false},
            ticks: {
                display: row === 4,
                color: "#000",
                font: {family: FONT, weight: "bold", size: 30},
                padding: 2,
                maxRotation: 0,
                autoSkip: false
            }
        },
        y: {
            type: "linear",
            min: Y_MIN,
            max: Y_MAX,
            afterBuildTicks: function (s) { s.ticks = Y_TICKS.map(function (v) { return {value: v}; }); },
            afterFit: fixedAxis(marginLeft, false),
            grid: tickGrid,
            border: {display: false},
            ticks: {
                display: col === 0,
                color: "#000",
                font: {family: FONT, weight: "bold", size: 31},
                padding: 16,
                autoSkip: false
            }
        }
    };
}

function buildDatasets(row, col) {
    if (col === 0) {
        return [
            lineSet(POOLED_X, POOLED_FITS[row], RED, 5.5, 0),
            zeroSet(4, [13, 9], 1),
            pointSet(BEECH_POINTS[row], "#000", 2),
            pointSet(SPRUCE_POINTS[row], "#000", 3)
        ];
    }
    if (col === 1) {
        return [
            zeroSet(4, [13, 9], 0),
            pointSet(BEECH_POINTS[row], BLUE, 1),
            pointSet(SPRUCE_POINTS[row], GREEN, 2)
        ];
    }
    var b = BEECH_SMOOTH[row];
    var s = SPRUCE_SMOOTH[row];
    return [
        lineSet(SMOOTH_X, b[0], BLUE, 4, 0),
        lineSet(SMOOTH_X, s[0], GREEN, 4, 1),
        zeroSet(3, [12, 10], 2),
        bandSet(SMOOTH_X, b[1], BLUE_BAND, "+1", 3),
        bandSet(SMOOTH_X, b[2], BLUE_BAND, false, 4),
        bandSet(SMOOTH_X, s[1], GREEN_BAND, "+1", 5),
        bandSet(SMOOTH_X, s[2], GREEN_BAND, false, 6)
    ];
}

function makePanel(figure, row, col) {
    var marginLeft = col === 0 ? COL_LEFT[0] : 14;
    var marginBottom = row === 4 ? 121 : 14;
    var marginTop = 2;
    var marginRight = 2;
    var w = marginLeft + COL_W + marginRight;
    var h = marginTop + ROW_H[row] + marginBottom;

    var canvas = document.createElement("canvas");
    canvas.width = w;
    canvas.height = h;
    canvas.style.width = w + "px";
    canvas.style.height = h + "px";
    canvas.style.left = (COL_LEFT[col] - marginLeft) + "px";
    canvas.style.top = (ROW_TOP[row] - marginTop) + "px";
    figure.appendChild(canvas);

    var plugins = [panelBox];
    if (col === 0) {
        plugins.push(titlePlugin([POOLED_TITLES[row]]));
        plugins.push(methodLabel(METHODS[row]));
    } else if (col === 1) {
        plugins.push(titlePlugin([BEECH_TITLES[row], SPRUCE_TITLES[row]]));
        if (row === 4) {
            plugins.push(xAxisTitle);
        }
    }

    return new Chart(canvas.getContext("2d"), {
        type: "line",
        data: {datasets: buildDatasets(row, col)},
        options: {
            responsive: false,
            maintainAspectRatio: false,
            animation: false,
            devicePixelRatio: 1,
            events: [],
            layout: {padding: {top: marginTop, right: marginRight, left: 0, bottom: 0}},
            plugins: {
                legend: {display: false},
                tooltip: {enabled: false},
                filler: {propagate: false}
            },
            scales: scaleOptions(row, col, marginLeft, marginBottom)
        },
        plugins: plugins
    });
}

document.addEventListener("DOMContentLoaded", function () {
    var figure = document.getElementById("figure");
    for (var r = 0; r < METHODS.length; r++) {
        for (var c = 0; c < 3; c++) {
            makePanel(figure, r, c);
        }
    }
});
</script>
</body>
</html>
